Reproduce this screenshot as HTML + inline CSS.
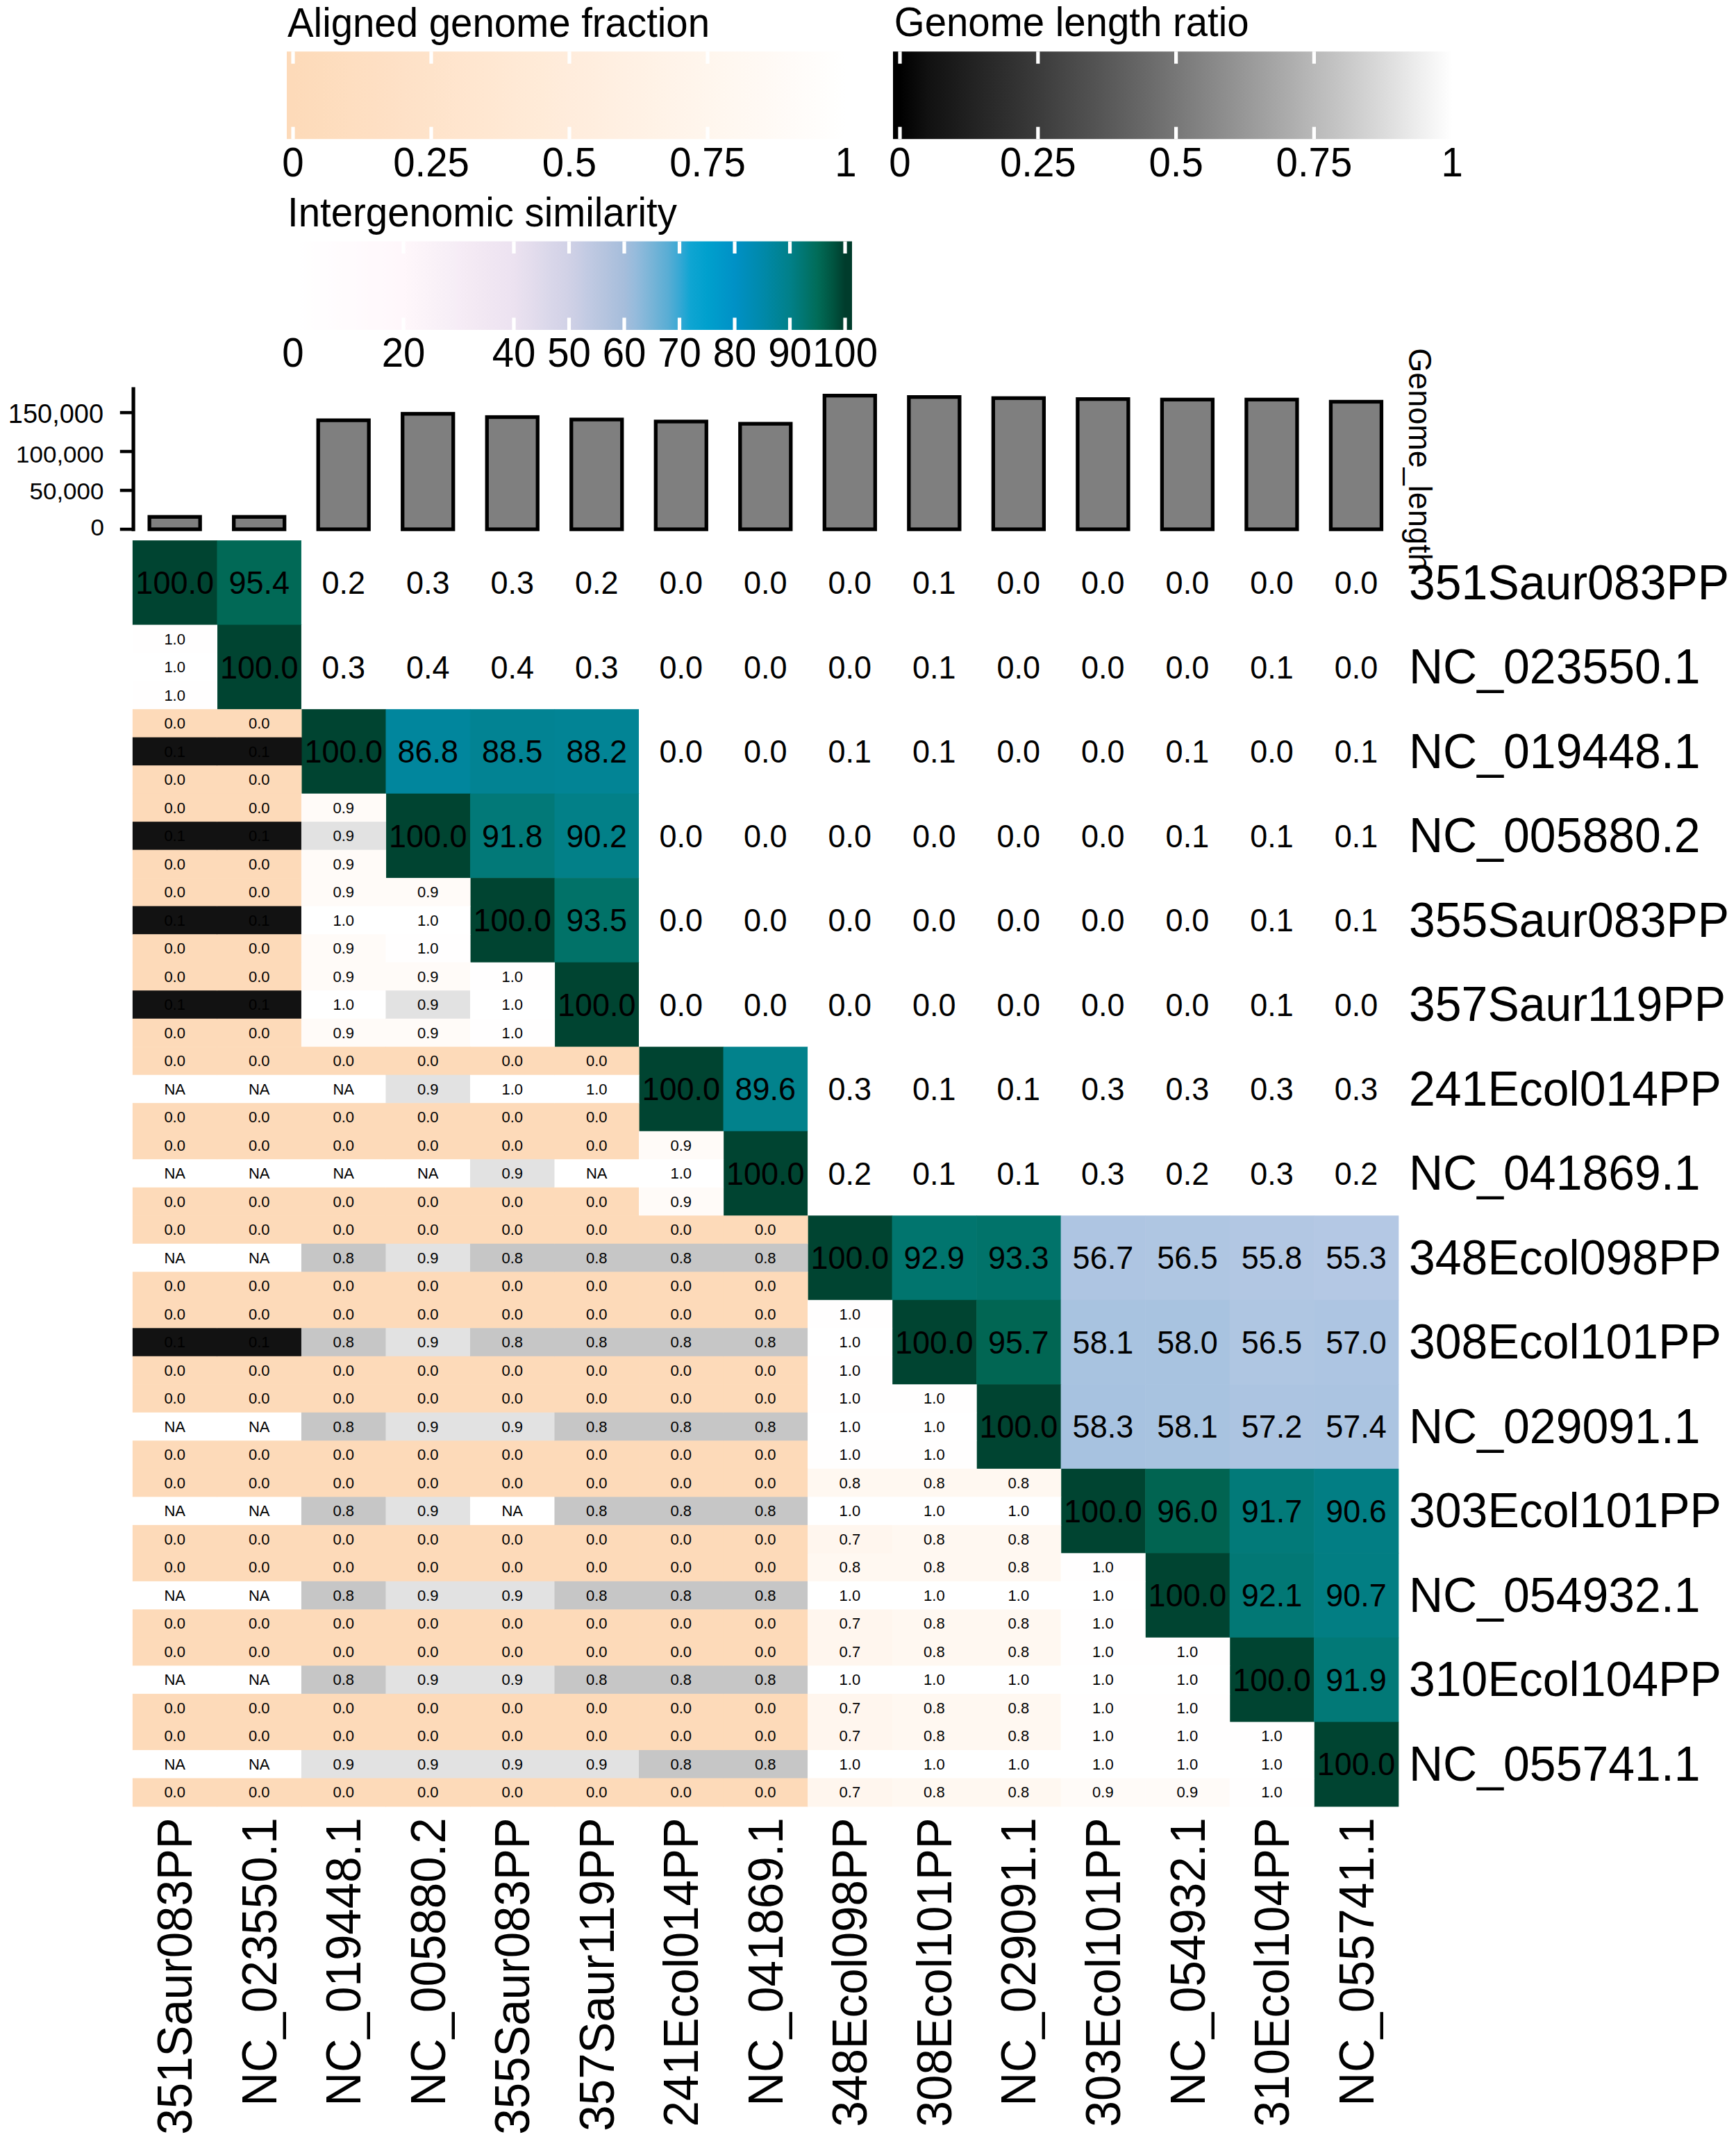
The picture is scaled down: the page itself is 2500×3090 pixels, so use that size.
<!DOCTYPE html><html><head><meta charset="utf-8"><title>VIRIDIC heatmap</title>
<style>html,body{margin:0;padding:0;background:#fff;}body{width:2500px;height:3090px;overflow:hidden;}svg{display:block;}text{font-family:"Liberation Sans", Arial, sans-serif;fill:#000;}</style></head><body>
<svg width="2500" height="3090" viewBox="0 0 2500 3090">
<rect x="0" y="0" width="2500" height="3090" fill="#fff"/>
<defs>
<linearGradient id="gfrac" gradientUnits="userSpaceOnUse" x1="422" y1="0" x2="1218" y2="0">
<stop offset="0" stop-color="#FDDAB9"/>
<stop offset="0.05" stop-color="#FDDCBC"/>
<stop offset="0.1" stop-color="#FEDEC0"/>
<stop offset="0.15" stop-color="#FEDFC3"/>
<stop offset="0.2" stop-color="#FEE1C7"/>
<stop offset="0.25" stop-color="#FEE3CA"/>
<stop offset="0.3" stop-color="#FFE5CE"/>
<stop offset="0.35" stop-color="#FFE7D1"/>
<stop offset="0.4" stop-color="#FFE9D5"/>
<stop offset="0.45" stop-color="#FFEBD8"/>
<stop offset="0.5" stop-color="#FFECDC"/>
<stop offset="0.55" stop-color="#FFEEDF"/>
<stop offset="0.6" stop-color="#FFF0E3"/>
<stop offset="0.65" stop-color="#FFF2E6"/>
<stop offset="0.7" stop-color="#FFF4EA"/>
<stop offset="0.75" stop-color="#FFF6ED"/>
<stop offset="0.8" stop-color="#FFF8F1"/>
<stop offset="0.85" stop-color="#FFF9F4"/>
<stop offset="0.9" stop-color="#FFFBF8"/>
<stop offset="0.95" stop-color="#FFFDFB"/>
<stop offset="1" stop-color="#FFFFFF"/>
</linearGradient>
<linearGradient id="glen" gradientUnits="userSpaceOnUse" x1="1296" y1="0" x2="2091.2" y2="0">
<stop offset="0" stop-color="#000000"/>
<stop offset="0.05" stop-color="#111111"/>
<stop offset="0.1" stop-color="#1B1B1B"/>
<stop offset="0.15" stop-color="#262626"/>
<stop offset="0.2" stop-color="#303030"/>
<stop offset="0.25" stop-color="#3B3B3B"/>
<stop offset="0.3" stop-color="#474747"/>
<stop offset="0.35" stop-color="#525252"/>
<stop offset="0.4" stop-color="#5E5E5E"/>
<stop offset="0.45" stop-color="#6A6A6A"/>
<stop offset="0.5" stop-color="#777777"/>
<stop offset="0.55" stop-color="#848484"/>
<stop offset="0.6" stop-color="#919191"/>
<stop offset="0.65" stop-color="#9E9E9E"/>
<stop offset="0.7" stop-color="#ABABAB"/>
<stop offset="0.75" stop-color="#B9B9B9"/>
<stop offset="0.8" stop-color="#C6C6C6"/>
<stop offset="0.85" stop-color="#D4D4D4"/>
<stop offset="0.9" stop-color="#E2E2E2"/>
<stop offset="0.95" stop-color="#F1F1F1"/>
<stop offset="1" stop-color="#FFFFFF"/>
</linearGradient>
<linearGradient id="gsim" gradientUnits="userSpaceOnUse" x1="422" y1="0" x2="1217" y2="0">
<stop offset="0" stop-color="#FFFFFF"/>
<stop offset="0.01" stop-color="#FFFFFF"/>
<stop offset="0.02" stop-color="#FFFEFF"/>
<stop offset="0.03" stop-color="#FFFEFE"/>
<stop offset="0.04" stop-color="#FFFDFE"/>
<stop offset="0.05" stop-color="#FFFDFE"/>
<stop offset="0.06" stop-color="#FFFDFE"/>
<stop offset="0.07" stop-color="#FFFCFE"/>
<stop offset="0.08" stop-color="#FFFCFD"/>
<stop offset="0.09" stop-color="#FFFBFD"/>
<stop offset="0.1" stop-color="#FFFBFD"/>
<stop offset="0.11" stop-color="#FFFBFD"/>
<stop offset="0.12" stop-color="#FFFAFD"/>
<stop offset="0.13" stop-color="#FFFAFC"/>
<stop offset="0.14" stop-color="#FFF9FC"/>
<stop offset="0.15" stop-color="#FFF9FC"/>
<stop offset="0.16" stop-color="#FFF9FC"/>
<stop offset="0.17" stop-color="#FFF8FC"/>
<stop offset="0.18" stop-color="#FFF8FB"/>
<stop offset="0.19" stop-color="#FFF7FB"/>
<stop offset="0.2" stop-color="#FFF7FB"/>
<stop offset="0.21" stop-color="#FEF6FA"/>
<stop offset="0.22" stop-color="#FDF5FA"/>
<stop offset="0.23" stop-color="#FCF4F9"/>
<stop offset="0.24" stop-color="#FBF3F9"/>
<stop offset="0.25" stop-color="#FAF2F8"/>
<stop offset="0.26" stop-color="#F9F1F8"/>
<stop offset="0.27" stop-color="#F8F0F7"/>
<stop offset="0.28" stop-color="#F7EFF7"/>
<stop offset="0.29" stop-color="#F6EEF6"/>
<stop offset="0.3" stop-color="#F6ECF6"/>
<stop offset="0.31" stop-color="#F5EBF5"/>
<stop offset="0.32" stop-color="#F4EAF4"/>
<stop offset="0.33" stop-color="#F3E9F4"/>
<stop offset="0.34" stop-color="#F2E8F3"/>
<stop offset="0.35" stop-color="#F1E7F3"/>
<stop offset="0.36" stop-color="#F0E6F2"/>
<stop offset="0.37" stop-color="#EFE5F2"/>
<stop offset="0.38" stop-color="#EEE4F1"/>
<stop offset="0.39" stop-color="#EDE3F1"/>
<stop offset="0.4" stop-color="#ECE2F0"/>
<stop offset="0.41" stop-color="#E9E0EF"/>
<stop offset="0.42" stop-color="#E6DFEE"/>
<stop offset="0.43" stop-color="#E4DDED"/>
<stop offset="0.44" stop-color="#E1DBEC"/>
<stop offset="0.45" stop-color="#DEDAEB"/>
<stop offset="0.46" stop-color="#DBD8EA"/>
<stop offset="0.47" stop-color="#D8D6E9"/>
<stop offset="0.48" stop-color="#D6D4E8"/>
<stop offset="0.49" stop-color="#D3D3E7"/>
<stop offset="0.5" stop-color="#D0D1E6"/>
<stop offset="0.51" stop-color="#CCCFE5"/>
<stop offset="0.52" stop-color="#C8CDE4"/>
<stop offset="0.53" stop-color="#C3CBE3"/>
<stop offset="0.54" stop-color="#BFC9E2"/>
<stop offset="0.55" stop-color="#BBC7E0"/>
<stop offset="0.56" stop-color="#B7C5DF"/>
<stop offset="0.57" stop-color="#B3C3DE"/>
<stop offset="0.58" stop-color="#AEC1DD"/>
<stop offset="0.59" stop-color="#AABFDC"/>
<stop offset="0.6" stop-color="#A6BDDB"/>
<stop offset="0.62" stop-color="#96BBDC"/>
<stop offset="0.65" stop-color="#78B4D7"/>
<stop offset="0.68" stop-color="#58ADD4"/>
<stop offset="0.7" stop-color="#37A8D4"/>
<stop offset="0.72" stop-color="#0FA5D2"/>
<stop offset="0.75" stop-color="#00A0CD"/>
<stop offset="0.8" stop-color="#0091C6"/>
<stop offset="0.85" stop-color="#0089AA"/>
<stop offset="0.9" stop-color="#018089"/>
<stop offset="0.95" stop-color="#016C58"/>
<stop offset="0.98" stop-color="#00523E"/>
<stop offset="1" stop-color="#003C2C"/>
</linearGradient>
</defs>
<text transform="translate(414,52.6) scale(1,1.035)" font-size="56.4">Aligned genome fraction</text>
<rect x="413" y="74.2" width="813" height="126" fill="url(#gfrac)"/>
<rect x="419.4" y="74.2" width="5.2" height="17.5" fill="#fff"/>
<rect x="419.4" y="182.7" width="5.2" height="17.5" fill="#fff"/>
<rect x="618.4" y="74.2" width="5.2" height="17.5" fill="#fff"/>
<rect x="618.4" y="182.7" width="5.2" height="17.5" fill="#fff"/>
<rect x="817.4" y="74.2" width="5.2" height="17.5" fill="#fff"/>
<rect x="817.4" y="182.7" width="5.2" height="17.5" fill="#fff"/>
<rect x="1016.4" y="74.2" width="5.2" height="17.5" fill="#fff"/>
<rect x="1016.4" y="182.7" width="5.2" height="17.5" fill="#fff"/>
<rect x="1215.4" y="74.2" width="5.2" height="17.5" fill="#fff"/>
<rect x="1215.4" y="182.7" width="5.2" height="17.5" fill="#fff"/>
<text transform="translate(422,253.5) scale(1,1.035)" font-size="56.4" text-anchor="middle">0</text>
<text transform="translate(621,253.5) scale(1,1.035)" font-size="56.4" text-anchor="middle">0.25</text>
<text transform="translate(820,253.5) scale(1,1.035)" font-size="56.4" text-anchor="middle">0.5</text>
<text transform="translate(1019,253.5) scale(1,1.035)" font-size="56.4" text-anchor="middle">0.75</text>
<text transform="translate(1218,253.5) scale(1,1.035)" font-size="56.4" text-anchor="middle">1</text>
<text transform="translate(1287.8,52.2) scale(1,1.035)" font-size="56.4">Genome length ratio</text>
<rect x="1286" y="74.2" width="813" height="126" fill="url(#glen)"/>
<rect x="1293.4" y="74.2" width="5.2" height="17.5" fill="#fff"/>
<rect x="1293.4" y="182.7" width="5.2" height="17.5" fill="#fff"/>
<rect x="1492.2" y="74.2" width="5.2" height="17.5" fill="#fff"/>
<rect x="1492.2" y="182.7" width="5.2" height="17.5" fill="#fff"/>
<rect x="1691" y="74.2" width="5.2" height="17.5" fill="#fff"/>
<rect x="1691" y="182.7" width="5.2" height="17.5" fill="#fff"/>
<rect x="1889.8" y="74.2" width="5.2" height="17.5" fill="#fff"/>
<rect x="1889.8" y="182.7" width="5.2" height="17.5" fill="#fff"/>
<rect x="2088.6" y="74.2" width="5.2" height="17.5" fill="#fff"/>
<rect x="2088.6" y="182.7" width="5.2" height="17.5" fill="#fff"/>
<text transform="translate(1296,253.5) scale(1,1.035)" font-size="56.4" text-anchor="middle">0</text>
<text transform="translate(1494.8,253.5) scale(1,1.035)" font-size="56.4" text-anchor="middle">0.25</text>
<text transform="translate(1693.6,253.5) scale(1,1.035)" font-size="56.4" text-anchor="middle">0.5</text>
<text transform="translate(1892.4,253.5) scale(1,1.035)" font-size="56.4" text-anchor="middle">0.75</text>
<text transform="translate(2091.2,253.5) scale(1,1.035)" font-size="56.4" text-anchor="middle">1</text>
<text transform="translate(414,326) scale(1,1.035)" font-size="56.4">Intergenomic similarity</text>
<rect x="413" y="347.5" width="814" height="127.5" fill="url(#gsim)"/>
<rect x="419.4" y="347.5" width="5.2" height="17.5" fill="#fff"/>
<rect x="419.4" y="457.5" width="5.2" height="17.5" fill="#fff"/>
<rect x="578.4" y="347.5" width="5.2" height="17.5" fill="#fff"/>
<rect x="578.4" y="457.5" width="5.2" height="17.5" fill="#fff"/>
<rect x="737.4" y="347.5" width="5.2" height="17.5" fill="#fff"/>
<rect x="737.4" y="457.5" width="5.2" height="17.5" fill="#fff"/>
<rect x="816.9" y="347.5" width="5.2" height="17.5" fill="#fff"/>
<rect x="816.9" y="457.5" width="5.2" height="17.5" fill="#fff"/>
<rect x="896.4" y="347.5" width="5.2" height="17.5" fill="#fff"/>
<rect x="896.4" y="457.5" width="5.2" height="17.5" fill="#fff"/>
<rect x="975.9" y="347.5" width="5.2" height="17.5" fill="#fff"/>
<rect x="975.9" y="457.5" width="5.2" height="17.5" fill="#fff"/>
<rect x="1055.4" y="347.5" width="5.2" height="17.5" fill="#fff"/>
<rect x="1055.4" y="457.5" width="5.2" height="17.5" fill="#fff"/>
<rect x="1134.9" y="347.5" width="5.2" height="17.5" fill="#fff"/>
<rect x="1134.9" y="457.5" width="5.2" height="17.5" fill="#fff"/>
<rect x="1214.4" y="347.5" width="5.2" height="17.5" fill="#fff"/>
<rect x="1214.4" y="457.5" width="5.2" height="17.5" fill="#fff"/>
<text transform="translate(422,528) scale(1,1.035)" font-size="56.4" text-anchor="middle">0</text>
<text transform="translate(581,528) scale(1,1.035)" font-size="56.4" text-anchor="middle">20</text>
<text transform="translate(740,528) scale(1,1.035)" font-size="56.4" text-anchor="middle">40</text>
<text transform="translate(819.5,528) scale(1,1.035)" font-size="56.4" text-anchor="middle">50</text>
<text transform="translate(899,528) scale(1,1.035)" font-size="56.4" text-anchor="middle">60</text>
<text transform="translate(978.5,528) scale(1,1.035)" font-size="56.4" text-anchor="middle">70</text>
<text transform="translate(1058,528) scale(1,1.035)" font-size="56.4" text-anchor="middle">80</text>
<text transform="translate(1137.5,528) scale(1,1.035)" font-size="56.4" text-anchor="middle">90</text>
<text transform="translate(1217,528) scale(1,1.035)" font-size="56.4" text-anchor="middle">100</text>
<rect x="189.5" y="557.5" width="5.2" height="207.3" fill="#000"/>
<rect x="172.8" y="759.8" width="20" height="4.6" fill="#000"/>
<rect x="172.8" y="703.8" width="20" height="4.6" fill="#000"/>
<rect x="172.8" y="647.8" width="20" height="4.6" fill="#000"/>
<rect x="172.8" y="591.8" width="20" height="4.6" fill="#000"/>
<text transform="translate(149.1,609.2) scale(1,1.035)" font-size="38" text-anchor="end">150,000</text>
<text transform="translate(149.5,666.3) scale(1,0.94)" font-size="35" text-anchor="end">100,000</text>
<text transform="translate(149.5,719.3) scale(1,0.94)" font-size="35" text-anchor="end">50,000</text>
<text transform="translate(150,770.5) scale(1,0.96)" font-size="35" text-anchor="end">0</text>
<rect x="215.16" y="744.25" width="73" height="17.85" fill="#7F7F7F" stroke="#000" stroke-width="5.3"/>
<rect x="336.68" y="744.25" width="73" height="17.85" fill="#7F7F7F" stroke="#000" stroke-width="5.3"/>
<rect x="458.2" y="605.15" width="73" height="156.95" fill="#7F7F7F" stroke="#000" stroke-width="5.3"/>
<rect x="579.72" y="595.85" width="73" height="166.25" fill="#7F7F7F" stroke="#000" stroke-width="5.3"/>
<rect x="701.24" y="600.55" width="73" height="161.55" fill="#7F7F7F" stroke="#000" stroke-width="5.3"/>
<rect x="822.76" y="604.05" width="73" height="158.05" fill="#7F7F7F" stroke="#000" stroke-width="5.3"/>
<rect x="944.28" y="606.95" width="73" height="155.15" fill="#7F7F7F" stroke="#000" stroke-width="5.3"/>
<rect x="1065.8" y="610.15" width="73" height="151.95" fill="#7F7F7F" stroke="#000" stroke-width="5.3"/>
<rect x="1187.32" y="569.65" width="73" height="192.45" fill="#7F7F7F" stroke="#000" stroke-width="5.3"/>
<rect x="1308.84" y="571.65" width="73" height="190.45" fill="#7F7F7F" stroke="#000" stroke-width="5.3"/>
<rect x="1430.36" y="573.25" width="73" height="188.85" fill="#7F7F7F" stroke="#000" stroke-width="5.3"/>
<rect x="1551.88" y="574.65" width="73" height="187.45" fill="#7F7F7F" stroke="#000" stroke-width="5.3"/>
<rect x="1673.4" y="575.35" width="73" height="186.75" fill="#7F7F7F" stroke="#000" stroke-width="5.3"/>
<rect x="1794.92" y="575.35" width="73" height="186.75" fill="#7F7F7F" stroke="#000" stroke-width="5.3"/>
<rect x="1916.44" y="578.45" width="73" height="183.65" fill="#7F7F7F" stroke="#000" stroke-width="5.3"/>
<text transform="translate(2029,501.3) rotate(90) scale(1,1.035)" font-size="45">Genome_length</text>
<rect x="190.9" y="778.1" width="122.12" height="122.12" fill="#004431"/>
<rect x="312.42" y="778.1" width="122.12" height="122.12" fill="#016956"/>
<rect x="433.94" y="778.1" width="122.12" height="122.12" fill="#FFFFFF"/>
<rect x="555.46" y="778.1" width="122.12" height="122.12" fill="#FFFFFF"/>
<rect x="676.98" y="778.1" width="122.12" height="122.12" fill="#FFFFFF"/>
<rect x="798.5" y="778.1" width="122.12" height="122.12" fill="#FFFFFF"/>
<rect x="920.02" y="778.1" width="122.12" height="122.12" fill="#FFFFFF"/>
<rect x="1041.54" y="778.1" width="122.12" height="122.12" fill="#FFFFFF"/>
<rect x="1163.06" y="778.1" width="122.12" height="122.12" fill="#FFFFFF"/>
<rect x="1284.58" y="778.1" width="122.12" height="122.12" fill="#FFFFFF"/>
<rect x="1406.1" y="778.1" width="122.12" height="122.12" fill="#FFFFFF"/>
<rect x="1527.62" y="778.1" width="122.12" height="122.12" fill="#FFFFFF"/>
<rect x="1649.14" y="778.1" width="122.12" height="122.12" fill="#FFFFFF"/>
<rect x="1770.66" y="778.1" width="122.12" height="122.12" fill="#FFFFFF"/>
<rect x="1892.18" y="778.1" width="122.12" height="122.12" fill="#FFFFFF"/>
<rect x="312.42" y="899.62" width="122.12" height="122.12" fill="#004431"/>
<rect x="433.94" y="899.62" width="122.12" height="122.12" fill="#FFFFFF"/>
<rect x="555.46" y="899.62" width="122.12" height="122.12" fill="#FFFFFF"/>
<rect x="676.98" y="899.62" width="122.12" height="122.12" fill="#FFFFFF"/>
<rect x="798.5" y="899.62" width="122.12" height="122.12" fill="#FFFFFF"/>
<rect x="920.02" y="899.62" width="122.12" height="122.12" fill="#FFFFFF"/>
<rect x="1041.54" y="899.62" width="122.12" height="122.12" fill="#FFFFFF"/>
<rect x="1163.06" y="899.62" width="122.12" height="122.12" fill="#FFFFFF"/>
<rect x="1284.58" y="899.62" width="122.12" height="122.12" fill="#FFFFFF"/>
<rect x="1406.1" y="899.62" width="122.12" height="122.12" fill="#FFFFFF"/>
<rect x="1527.62" y="899.62" width="122.12" height="122.12" fill="#FFFFFF"/>
<rect x="1649.14" y="899.62" width="122.12" height="122.12" fill="#FFFFFF"/>
<rect x="1770.66" y="899.62" width="122.12" height="122.12" fill="#FFFFFF"/>
<rect x="1892.18" y="899.62" width="122.12" height="122.12" fill="#FFFFFF"/>
<rect x="190.9" y="899.62" width="122.12" height="41.11" fill="#FFFEFE"/>
<rect x="190.9" y="940.13" width="122.12" height="41.11" fill="#FFFFFF"/>
<rect x="190.9" y="980.63" width="122.12" height="41.11" fill="#FFFEFE"/>
<rect x="433.94" y="1021.14" width="122.12" height="122.12" fill="#004431"/>
<rect x="555.46" y="1021.14" width="122.12" height="122.12" fill="#01869D"/>
<rect x="676.98" y="1021.14" width="122.12" height="122.12" fill="#028393"/>
<rect x="798.5" y="1021.14" width="122.12" height="122.12" fill="#028495"/>
<rect x="920.02" y="1021.14" width="122.12" height="122.12" fill="#FFFFFF"/>
<rect x="1041.54" y="1021.14" width="122.12" height="122.12" fill="#FFFFFF"/>
<rect x="1163.06" y="1021.14" width="122.12" height="122.12" fill="#FFFFFF"/>
<rect x="1284.58" y="1021.14" width="122.12" height="122.12" fill="#FFFFFF"/>
<rect x="1406.1" y="1021.14" width="122.12" height="122.12" fill="#FFFFFF"/>
<rect x="1527.62" y="1021.14" width="122.12" height="122.12" fill="#FFFFFF"/>
<rect x="1649.14" y="1021.14" width="122.12" height="122.12" fill="#FFFFFF"/>
<rect x="1770.66" y="1021.14" width="122.12" height="122.12" fill="#FFFFFF"/>
<rect x="1892.18" y="1021.14" width="122.12" height="122.12" fill="#FFFFFF"/>
<rect x="190.9" y="1021.14" width="122.12" height="41.11" fill="#FDDAB9"/>
<rect x="190.9" y="1061.65" width="122.12" height="41.11" fill="#121212"/>
<rect x="190.9" y="1102.15" width="122.12" height="41.11" fill="#FDDAB9"/>
<rect x="312.42" y="1021.14" width="122.12" height="41.11" fill="#FDDAB9"/>
<rect x="312.42" y="1061.65" width="122.12" height="41.11" fill="#121212"/>
<rect x="312.42" y="1102.15" width="122.12" height="41.11" fill="#FDDAB9"/>
<rect x="555.46" y="1142.66" width="122.12" height="122.12" fill="#004431"/>
<rect x="676.98" y="1142.66" width="122.12" height="122.12" fill="#027978"/>
<rect x="798.5" y="1142.66" width="122.12" height="122.12" fill="#028088"/>
<rect x="920.02" y="1142.66" width="122.12" height="122.12" fill="#FFFFFF"/>
<rect x="1041.54" y="1142.66" width="122.12" height="122.12" fill="#FFFFFF"/>
<rect x="1163.06" y="1142.66" width="122.12" height="122.12" fill="#FFFFFF"/>
<rect x="1284.58" y="1142.66" width="122.12" height="122.12" fill="#FFFFFF"/>
<rect x="1406.1" y="1142.66" width="122.12" height="122.12" fill="#FFFFFF"/>
<rect x="1527.62" y="1142.66" width="122.12" height="122.12" fill="#FFFFFF"/>
<rect x="1649.14" y="1142.66" width="122.12" height="122.12" fill="#FFFFFF"/>
<rect x="1770.66" y="1142.66" width="122.12" height="122.12" fill="#FFFFFF"/>
<rect x="1892.18" y="1142.66" width="122.12" height="122.12" fill="#FFFFFF"/>
<rect x="190.9" y="1142.66" width="122.12" height="41.11" fill="#FDDAB9"/>
<rect x="190.9" y="1183.17" width="122.12" height="41.11" fill="#121212"/>
<rect x="190.9" y="1223.67" width="122.12" height="41.11" fill="#FDDAB9"/>
<rect x="312.42" y="1142.66" width="122.12" height="41.11" fill="#FDDAB9"/>
<rect x="312.42" y="1183.17" width="122.12" height="41.11" fill="#121212"/>
<rect x="312.42" y="1223.67" width="122.12" height="41.11" fill="#FDDAB9"/>
<rect x="433.94" y="1142.66" width="122.12" height="41.11" fill="#FFFBF8"/>
<rect x="433.94" y="1183.17" width="122.12" height="41.11" fill="#E2E2E2"/>
<rect x="433.94" y="1223.67" width="122.12" height="41.11" fill="#FFFBF8"/>
<rect x="676.98" y="1264.18" width="122.12" height="122.12" fill="#004431"/>
<rect x="798.5" y="1264.18" width="122.12" height="122.12" fill="#017268"/>
<rect x="920.02" y="1264.18" width="122.12" height="122.12" fill="#FFFFFF"/>
<rect x="1041.54" y="1264.18" width="122.12" height="122.12" fill="#FFFFFF"/>
<rect x="1163.06" y="1264.18" width="122.12" height="122.12" fill="#FFFFFF"/>
<rect x="1284.58" y="1264.18" width="122.12" height="122.12" fill="#FFFFFF"/>
<rect x="1406.1" y="1264.18" width="122.12" height="122.12" fill="#FFFFFF"/>
<rect x="1527.62" y="1264.18" width="122.12" height="122.12" fill="#FFFFFF"/>
<rect x="1649.14" y="1264.18" width="122.12" height="122.12" fill="#FFFFFF"/>
<rect x="1770.66" y="1264.18" width="122.12" height="122.12" fill="#FFFFFF"/>
<rect x="1892.18" y="1264.18" width="122.12" height="122.12" fill="#FFFFFF"/>
<rect x="190.9" y="1264.18" width="122.12" height="41.11" fill="#FDDAB9"/>
<rect x="190.9" y="1304.69" width="122.12" height="41.11" fill="#121212"/>
<rect x="190.9" y="1345.19" width="122.12" height="41.11" fill="#FDDAB9"/>
<rect x="312.42" y="1264.18" width="122.12" height="41.11" fill="#FDDAB9"/>
<rect x="312.42" y="1304.69" width="122.12" height="41.11" fill="#121212"/>
<rect x="312.42" y="1345.19" width="122.12" height="41.11" fill="#FDDAB9"/>
<rect x="433.94" y="1264.18" width="122.12" height="41.11" fill="#FFFBF8"/>
<rect x="433.94" y="1304.69" width="122.12" height="41.11" fill="#FFFFFF"/>
<rect x="433.94" y="1345.19" width="122.12" height="41.11" fill="#FFFBF8"/>
<rect x="555.46" y="1264.18" width="122.12" height="41.11" fill="#FFFBF8"/>
<rect x="555.46" y="1304.69" width="122.12" height="41.11" fill="#FFFFFF"/>
<rect x="555.46" y="1345.19" width="122.12" height="41.11" fill="#FFFEFE"/>
<rect x="798.5" y="1385.7" width="122.12" height="122.12" fill="#004431"/>
<rect x="920.02" y="1385.7" width="122.12" height="122.12" fill="#FFFFFF"/>
<rect x="1041.54" y="1385.7" width="122.12" height="122.12" fill="#FFFFFF"/>
<rect x="1163.06" y="1385.7" width="122.12" height="122.12" fill="#FFFFFF"/>
<rect x="1284.58" y="1385.7" width="122.12" height="122.12" fill="#FFFFFF"/>
<rect x="1406.1" y="1385.7" width="122.12" height="122.12" fill="#FFFFFF"/>
<rect x="1527.62" y="1385.7" width="122.12" height="122.12" fill="#FFFFFF"/>
<rect x="1649.14" y="1385.7" width="122.12" height="122.12" fill="#FFFFFF"/>
<rect x="1770.66" y="1385.7" width="122.12" height="122.12" fill="#FFFFFF"/>
<rect x="1892.18" y="1385.7" width="122.12" height="122.12" fill="#FFFFFF"/>
<rect x="190.9" y="1385.7" width="122.12" height="41.11" fill="#FDDAB9"/>
<rect x="190.9" y="1426.21" width="122.12" height="41.11" fill="#121212"/>
<rect x="190.9" y="1466.71" width="122.12" height="41.11" fill="#FDDAB9"/>
<rect x="312.42" y="1385.7" width="122.12" height="41.11" fill="#FDDAB9"/>
<rect x="312.42" y="1426.21" width="122.12" height="41.11" fill="#121212"/>
<rect x="312.42" y="1466.71" width="122.12" height="41.11" fill="#FDDAB9"/>
<rect x="433.94" y="1385.7" width="122.12" height="41.11" fill="#FFFBF8"/>
<rect x="433.94" y="1426.21" width="122.12" height="41.11" fill="#FFFFFF"/>
<rect x="433.94" y="1466.71" width="122.12" height="41.11" fill="#FFFBF8"/>
<rect x="555.46" y="1385.7" width="122.12" height="41.11" fill="#FFFBF8"/>
<rect x="555.46" y="1426.21" width="122.12" height="41.11" fill="#E2E2E2"/>
<rect x="555.46" y="1466.71" width="122.12" height="41.11" fill="#FFFBF8"/>
<rect x="676.98" y="1385.7" width="122.12" height="41.11" fill="#FFFEFE"/>
<rect x="676.98" y="1426.21" width="122.12" height="41.11" fill="#FFFFFF"/>
<rect x="676.98" y="1466.71" width="122.12" height="41.11" fill="#FFFEFE"/>
<rect x="920.02" y="1507.22" width="122.12" height="122.12" fill="#004431"/>
<rect x="1041.54" y="1507.22" width="122.12" height="122.12" fill="#02828C"/>
<rect x="1163.06" y="1507.22" width="122.12" height="122.12" fill="#FFFFFF"/>
<rect x="1284.58" y="1507.22" width="122.12" height="122.12" fill="#FFFFFF"/>
<rect x="1406.1" y="1507.22" width="122.12" height="122.12" fill="#FFFFFF"/>
<rect x="1527.62" y="1507.22" width="122.12" height="122.12" fill="#FFFFFF"/>
<rect x="1649.14" y="1507.22" width="122.12" height="122.12" fill="#FFFFFF"/>
<rect x="1770.66" y="1507.22" width="122.12" height="122.12" fill="#FFFFFF"/>
<rect x="1892.18" y="1507.22" width="122.12" height="122.12" fill="#FFFFFF"/>
<rect x="190.9" y="1507.22" width="122.12" height="41.11" fill="#FDDAB9"/>
<rect x="190.9" y="1547.73" width="122.12" height="41.11" fill="#FFFFFF"/>
<rect x="190.9" y="1588.23" width="122.12" height="41.11" fill="#FDDAB9"/>
<rect x="312.42" y="1507.22" width="122.12" height="41.11" fill="#FDDAB9"/>
<rect x="312.42" y="1547.73" width="122.12" height="41.11" fill="#FFFFFF"/>
<rect x="312.42" y="1588.23" width="122.12" height="41.11" fill="#FDDAB9"/>
<rect x="433.94" y="1507.22" width="122.12" height="41.11" fill="#FDDAB9"/>
<rect x="433.94" y="1547.73" width="122.12" height="41.11" fill="#FFFFFF"/>
<rect x="433.94" y="1588.23" width="122.12" height="41.11" fill="#FDDAB9"/>
<rect x="555.46" y="1507.22" width="122.12" height="41.11" fill="#FDDAB9"/>
<rect x="555.46" y="1547.73" width="122.12" height="41.11" fill="#E2E2E2"/>
<rect x="555.46" y="1588.23" width="122.12" height="41.11" fill="#FDDAB9"/>
<rect x="676.98" y="1507.22" width="122.12" height="41.11" fill="#FDDAB9"/>
<rect x="676.98" y="1547.73" width="122.12" height="41.11" fill="#FFFFFF"/>
<rect x="676.98" y="1588.23" width="122.12" height="41.11" fill="#FDDAB9"/>
<rect x="798.5" y="1507.22" width="122.12" height="41.11" fill="#FDDAB9"/>
<rect x="798.5" y="1547.73" width="122.12" height="41.11" fill="#FFFFFF"/>
<rect x="798.5" y="1588.23" width="122.12" height="41.11" fill="#FDDAB9"/>
<rect x="1041.54" y="1628.74" width="122.12" height="122.12" fill="#004431"/>
<rect x="1163.06" y="1628.74" width="122.12" height="122.12" fill="#FFFFFF"/>
<rect x="1284.58" y="1628.74" width="122.12" height="122.12" fill="#FFFFFF"/>
<rect x="1406.1" y="1628.74" width="122.12" height="122.12" fill="#FFFFFF"/>
<rect x="1527.62" y="1628.74" width="122.12" height="122.12" fill="#FFFFFF"/>
<rect x="1649.14" y="1628.74" width="122.12" height="122.12" fill="#FFFFFF"/>
<rect x="1770.66" y="1628.74" width="122.12" height="122.12" fill="#FFFFFF"/>
<rect x="1892.18" y="1628.74" width="122.12" height="122.12" fill="#FFFFFF"/>
<rect x="190.9" y="1628.74" width="122.12" height="41.11" fill="#FDDAB9"/>
<rect x="190.9" y="1669.25" width="122.12" height="41.11" fill="#FFFFFF"/>
<rect x="190.9" y="1709.75" width="122.12" height="41.11" fill="#FDDAB9"/>
<rect x="312.42" y="1628.74" width="122.12" height="41.11" fill="#FDDAB9"/>
<rect x="312.42" y="1669.25" width="122.12" height="41.11" fill="#FFFFFF"/>
<rect x="312.42" y="1709.75" width="122.12" height="41.11" fill="#FDDAB9"/>
<rect x="433.94" y="1628.74" width="122.12" height="41.11" fill="#FDDAB9"/>
<rect x="433.94" y="1669.25" width="122.12" height="41.11" fill="#FFFFFF"/>
<rect x="433.94" y="1709.75" width="122.12" height="41.11" fill="#FDDAB9"/>
<rect x="555.46" y="1628.74" width="122.12" height="41.11" fill="#FDDAB9"/>
<rect x="555.46" y="1669.25" width="122.12" height="41.11" fill="#FFFFFF"/>
<rect x="555.46" y="1709.75" width="122.12" height="41.11" fill="#FDDAB9"/>
<rect x="676.98" y="1628.74" width="122.12" height="41.11" fill="#FDDAB9"/>
<rect x="676.98" y="1669.25" width="122.12" height="41.11" fill="#E2E2E2"/>
<rect x="676.98" y="1709.75" width="122.12" height="41.11" fill="#FDDAB9"/>
<rect x="798.5" y="1628.74" width="122.12" height="41.11" fill="#FDDAB9"/>
<rect x="798.5" y="1669.25" width="122.12" height="41.11" fill="#FFFFFF"/>
<rect x="798.5" y="1709.75" width="122.12" height="41.11" fill="#FDDAB9"/>
<rect x="920.02" y="1628.74" width="122.12" height="41.11" fill="#FFFBF8"/>
<rect x="920.02" y="1669.25" width="122.12" height="41.11" fill="#FFFFFF"/>
<rect x="920.02" y="1709.75" width="122.12" height="41.11" fill="#FFFBF8"/>
<rect x="1163.06" y="1750.26" width="122.12" height="122.12" fill="#004431"/>
<rect x="1284.58" y="1750.26" width="122.12" height="122.12" fill="#01756E"/>
<rect x="1406.1" y="1750.26" width="122.12" height="122.12" fill="#01736A"/>
<rect x="1527.62" y="1750.26" width="122.12" height="122.12" fill="#AEC5E2"/>
<rect x="1649.14" y="1750.26" width="122.12" height="122.12" fill="#AFC6E2"/>
<rect x="1770.66" y="1750.26" width="122.12" height="122.12" fill="#B2C7E3"/>
<rect x="1892.18" y="1750.26" width="122.12" height="122.12" fill="#B4C8E4"/>
<rect x="190.9" y="1750.26" width="122.12" height="41.11" fill="#FDDAB9"/>
<rect x="190.9" y="1790.77" width="122.12" height="41.11" fill="#FFFFFF"/>
<rect x="190.9" y="1831.27" width="122.12" height="41.11" fill="#FDDAB9"/>
<rect x="312.42" y="1750.26" width="122.12" height="41.11" fill="#FDDAB9"/>
<rect x="312.42" y="1790.77" width="122.12" height="41.11" fill="#FFFFFF"/>
<rect x="312.42" y="1831.27" width="122.12" height="41.11" fill="#FDDAB9"/>
<rect x="433.94" y="1750.26" width="122.12" height="41.11" fill="#FDDAB9"/>
<rect x="433.94" y="1790.77" width="122.12" height="41.11" fill="#C6C6C6"/>
<rect x="433.94" y="1831.27" width="122.12" height="41.11" fill="#FDDAB9"/>
<rect x="555.46" y="1750.26" width="122.12" height="41.11" fill="#FDDAB9"/>
<rect x="555.46" y="1790.77" width="122.12" height="41.11" fill="#E2E2E2"/>
<rect x="555.46" y="1831.27" width="122.12" height="41.11" fill="#FDDAB9"/>
<rect x="676.98" y="1750.26" width="122.12" height="41.11" fill="#FDDAB9"/>
<rect x="676.98" y="1790.77" width="122.12" height="41.11" fill="#C6C6C6"/>
<rect x="676.98" y="1831.27" width="122.12" height="41.11" fill="#FDDAB9"/>
<rect x="798.5" y="1750.26" width="122.12" height="41.11" fill="#FDDAB9"/>
<rect x="798.5" y="1790.77" width="122.12" height="41.11" fill="#C6C6C6"/>
<rect x="798.5" y="1831.27" width="122.12" height="41.11" fill="#FDDAB9"/>
<rect x="920.02" y="1750.26" width="122.12" height="41.11" fill="#FDDAB9"/>
<rect x="920.02" y="1790.77" width="122.12" height="41.11" fill="#C6C6C6"/>
<rect x="920.02" y="1831.27" width="122.12" height="41.11" fill="#FDDAB9"/>
<rect x="1041.54" y="1750.26" width="122.12" height="41.11" fill="#FDDAB9"/>
<rect x="1041.54" y="1790.77" width="122.12" height="41.11" fill="#C6C6C6"/>
<rect x="1041.54" y="1831.27" width="122.12" height="41.11" fill="#FDDAB9"/>
<rect x="1284.58" y="1871.78" width="122.12" height="122.12" fill="#004431"/>
<rect x="1406.1" y="1871.78" width="122.12" height="122.12" fill="#016653"/>
<rect x="1527.62" y="1871.78" width="122.12" height="122.12" fill="#A8C3E0"/>
<rect x="1649.14" y="1871.78" width="122.12" height="122.12" fill="#A8C3E0"/>
<rect x="1770.66" y="1871.78" width="122.12" height="122.12" fill="#AFC6E2"/>
<rect x="1892.18" y="1871.78" width="122.12" height="122.12" fill="#ADC5E2"/>
<rect x="190.9" y="1871.78" width="122.12" height="41.11" fill="#FDDAB9"/>
<rect x="190.9" y="1912.29" width="122.12" height="41.11" fill="#121212"/>
<rect x="190.9" y="1952.79" width="122.12" height="41.11" fill="#FDDAB9"/>
<rect x="312.42" y="1871.78" width="122.12" height="41.11" fill="#FDDAB9"/>
<rect x="312.42" y="1912.29" width="122.12" height="41.11" fill="#121212"/>
<rect x="312.42" y="1952.79" width="122.12" height="41.11" fill="#FDDAB9"/>
<rect x="433.94" y="1871.78" width="122.12" height="41.11" fill="#FDDAB9"/>
<rect x="433.94" y="1912.29" width="122.12" height="41.11" fill="#C6C6C6"/>
<rect x="433.94" y="1952.79" width="122.12" height="41.11" fill="#FDDAB9"/>
<rect x="555.46" y="1871.78" width="122.12" height="41.11" fill="#FDDAB9"/>
<rect x="555.46" y="1912.29" width="122.12" height="41.11" fill="#E2E2E2"/>
<rect x="555.46" y="1952.79" width="122.12" height="41.11" fill="#FDDAB9"/>
<rect x="676.98" y="1871.78" width="122.12" height="41.11" fill="#FDDAB9"/>
<rect x="676.98" y="1912.29" width="122.12" height="41.11" fill="#C6C6C6"/>
<rect x="676.98" y="1952.79" width="122.12" height="41.11" fill="#FDDAB9"/>
<rect x="798.5" y="1871.78" width="122.12" height="41.11" fill="#FDDAB9"/>
<rect x="798.5" y="1912.29" width="122.12" height="41.11" fill="#C6C6C6"/>
<rect x="798.5" y="1952.79" width="122.12" height="41.11" fill="#FDDAB9"/>
<rect x="920.02" y="1871.78" width="122.12" height="41.11" fill="#FDDAB9"/>
<rect x="920.02" y="1912.29" width="122.12" height="41.11" fill="#C6C6C6"/>
<rect x="920.02" y="1952.79" width="122.12" height="41.11" fill="#FDDAB9"/>
<rect x="1041.54" y="1871.78" width="122.12" height="41.11" fill="#FDDAB9"/>
<rect x="1041.54" y="1912.29" width="122.12" height="41.11" fill="#C6C6C6"/>
<rect x="1041.54" y="1952.79" width="122.12" height="41.11" fill="#FDDAB9"/>
<rect x="1163.06" y="1871.78" width="122.12" height="41.11" fill="#FFFEFE"/>
<rect x="1163.06" y="1912.29" width="122.12" height="41.11" fill="#FFFFFF"/>
<rect x="1163.06" y="1952.79" width="122.12" height="41.11" fill="#FFFEFE"/>
<rect x="1406.1" y="1993.3" width="122.12" height="122.12" fill="#004431"/>
<rect x="1527.62" y="1993.3" width="122.12" height="122.12" fill="#A7C2E0"/>
<rect x="1649.14" y="1993.3" width="122.12" height="122.12" fill="#A8C3E0"/>
<rect x="1770.66" y="1993.3" width="122.12" height="122.12" fill="#ACC4E1"/>
<rect x="1892.18" y="1993.3" width="122.12" height="122.12" fill="#ABC4E1"/>
<rect x="190.9" y="1993.3" width="122.12" height="41.11" fill="#FDDAB9"/>
<rect x="190.9" y="2033.81" width="122.12" height="41.11" fill="#FFFFFF"/>
<rect x="190.9" y="2074.31" width="122.12" height="41.11" fill="#FDDAB9"/>
<rect x="312.42" y="1993.3" width="122.12" height="41.11" fill="#FDDAB9"/>
<rect x="312.42" y="2033.81" width="122.12" height="41.11" fill="#FFFFFF"/>
<rect x="312.42" y="2074.31" width="122.12" height="41.11" fill="#FDDAB9"/>
<rect x="433.94" y="1993.3" width="122.12" height="41.11" fill="#FDDAB9"/>
<rect x="433.94" y="2033.81" width="122.12" height="41.11" fill="#C6C6C6"/>
<rect x="433.94" y="2074.31" width="122.12" height="41.11" fill="#FDDAB9"/>
<rect x="555.46" y="1993.3" width="122.12" height="41.11" fill="#FDDAB9"/>
<rect x="555.46" y="2033.81" width="122.12" height="41.11" fill="#E2E2E2"/>
<rect x="555.46" y="2074.31" width="122.12" height="41.11" fill="#FDDAB9"/>
<rect x="676.98" y="1993.3" width="122.12" height="41.11" fill="#FDDAB9"/>
<rect x="676.98" y="2033.81" width="122.12" height="41.11" fill="#E2E2E2"/>
<rect x="676.98" y="2074.31" width="122.12" height="41.11" fill="#FDDAB9"/>
<rect x="798.5" y="1993.3" width="122.12" height="41.11" fill="#FDDAB9"/>
<rect x="798.5" y="2033.81" width="122.12" height="41.11" fill="#C6C6C6"/>
<rect x="798.5" y="2074.31" width="122.12" height="41.11" fill="#FDDAB9"/>
<rect x="920.02" y="1993.3" width="122.12" height="41.11" fill="#FDDAB9"/>
<rect x="920.02" y="2033.81" width="122.12" height="41.11" fill="#C6C6C6"/>
<rect x="920.02" y="2074.31" width="122.12" height="41.11" fill="#FDDAB9"/>
<rect x="1041.54" y="1993.3" width="122.12" height="41.11" fill="#FDDAB9"/>
<rect x="1041.54" y="2033.81" width="122.12" height="41.11" fill="#C6C6C6"/>
<rect x="1041.54" y="2074.31" width="122.12" height="41.11" fill="#FDDAB9"/>
<rect x="1163.06" y="1993.3" width="122.12" height="41.11" fill="#FFFEFE"/>
<rect x="1163.06" y="2033.81" width="122.12" height="41.11" fill="#FFFFFF"/>
<rect x="1163.06" y="2074.31" width="122.12" height="41.11" fill="#FFFEFE"/>
<rect x="1284.58" y="1993.3" width="122.12" height="41.11" fill="#FFFEFE"/>
<rect x="1284.58" y="2033.81" width="122.12" height="41.11" fill="#FFFFFF"/>
<rect x="1284.58" y="2074.31" width="122.12" height="41.11" fill="#FFFEFE"/>
<rect x="1527.62" y="2114.82" width="122.12" height="122.12" fill="#004431"/>
<rect x="1649.14" y="2114.82" width="122.12" height="122.12" fill="#016451"/>
<rect x="1770.66" y="2114.82" width="122.12" height="122.12" fill="#027A79"/>
<rect x="1892.18" y="2114.82" width="122.12" height="122.12" fill="#027E84"/>
<rect x="190.9" y="2114.82" width="122.12" height="41.11" fill="#FDDAB9"/>
<rect x="190.9" y="2155.33" width="122.12" height="41.11" fill="#FFFFFF"/>
<rect x="190.9" y="2195.83" width="122.12" height="41.11" fill="#FDDAB9"/>
<rect x="312.42" y="2114.82" width="122.12" height="41.11" fill="#FDDAB9"/>
<rect x="312.42" y="2155.33" width="122.12" height="41.11" fill="#FFFFFF"/>
<rect x="312.42" y="2195.83" width="122.12" height="41.11" fill="#FDDAB9"/>
<rect x="433.94" y="2114.82" width="122.12" height="41.11" fill="#FDDAB9"/>
<rect x="433.94" y="2155.33" width="122.12" height="41.11" fill="#C6C6C6"/>
<rect x="433.94" y="2195.83" width="122.12" height="41.11" fill="#FDDAB9"/>
<rect x="555.46" y="2114.82" width="122.12" height="41.11" fill="#FDDAB9"/>
<rect x="555.46" y="2155.33" width="122.12" height="41.11" fill="#E2E2E2"/>
<rect x="555.46" y="2195.83" width="122.12" height="41.11" fill="#FDDAB9"/>
<rect x="676.98" y="2114.82" width="122.12" height="41.11" fill="#FDDAB9"/>
<rect x="676.98" y="2155.33" width="122.12" height="41.11" fill="#FFFFFF"/>
<rect x="676.98" y="2195.83" width="122.12" height="41.11" fill="#FDDAB9"/>
<rect x="798.5" y="2114.82" width="122.12" height="41.11" fill="#FDDAB9"/>
<rect x="798.5" y="2155.33" width="122.12" height="41.11" fill="#C6C6C6"/>
<rect x="798.5" y="2195.83" width="122.12" height="41.11" fill="#FDDAB9"/>
<rect x="920.02" y="2114.82" width="122.12" height="41.11" fill="#FDDAB9"/>
<rect x="920.02" y="2155.33" width="122.12" height="41.11" fill="#C6C6C6"/>
<rect x="920.02" y="2195.83" width="122.12" height="41.11" fill="#FDDAB9"/>
<rect x="1041.54" y="2114.82" width="122.12" height="41.11" fill="#FDDAB9"/>
<rect x="1041.54" y="2155.33" width="122.12" height="41.11" fill="#C6C6C6"/>
<rect x="1041.54" y="2195.83" width="122.12" height="41.11" fill="#FDDAB9"/>
<rect x="1163.06" y="2114.82" width="122.12" height="41.11" fill="#FFF8F1"/>
<rect x="1163.06" y="2155.33" width="122.12" height="41.11" fill="#FFFFFF"/>
<rect x="1163.06" y="2195.83" width="122.12" height="41.11" fill="#FFF6EE"/>
<rect x="1284.58" y="2114.82" width="122.12" height="41.11" fill="#FFF8F1"/>
<rect x="1284.58" y="2155.33" width="122.12" height="41.11" fill="#FFFFFF"/>
<rect x="1284.58" y="2195.83" width="122.12" height="41.11" fill="#FFF8F1"/>
<rect x="1406.1" y="2114.82" width="122.12" height="41.11" fill="#FFF8F1"/>
<rect x="1406.1" y="2155.33" width="122.12" height="41.11" fill="#FFFFFF"/>
<rect x="1406.1" y="2195.83" width="122.12" height="41.11" fill="#FFF8F1"/>
<rect x="1649.14" y="2236.34" width="122.12" height="122.12" fill="#004431"/>
<rect x="1770.66" y="2236.34" width="122.12" height="122.12" fill="#027875"/>
<rect x="1892.18" y="2236.34" width="122.12" height="122.12" fill="#027E83"/>
<rect x="190.9" y="2236.34" width="122.12" height="41.11" fill="#FDDAB9"/>
<rect x="190.9" y="2276.85" width="122.12" height="41.11" fill="#FFFFFF"/>
<rect x="190.9" y="2317.35" width="122.12" height="41.11" fill="#FDDAB9"/>
<rect x="312.42" y="2236.34" width="122.12" height="41.11" fill="#FDDAB9"/>
<rect x="312.42" y="2276.85" width="122.12" height="41.11" fill="#FFFFFF"/>
<rect x="312.42" y="2317.35" width="122.12" height="41.11" fill="#FDDAB9"/>
<rect x="433.94" y="2236.34" width="122.12" height="41.11" fill="#FDDAB9"/>
<rect x="433.94" y="2276.85" width="122.12" height="41.11" fill="#C6C6C6"/>
<rect x="433.94" y="2317.35" width="122.12" height="41.11" fill="#FDDAB9"/>
<rect x="555.46" y="2236.34" width="122.12" height="41.11" fill="#FDDAB9"/>
<rect x="555.46" y="2276.85" width="122.12" height="41.11" fill="#E2E2E2"/>
<rect x="555.46" y="2317.35" width="122.12" height="41.11" fill="#FDDAB9"/>
<rect x="676.98" y="2236.34" width="122.12" height="41.11" fill="#FDDAB9"/>
<rect x="676.98" y="2276.85" width="122.12" height="41.11" fill="#E2E2E2"/>
<rect x="676.98" y="2317.35" width="122.12" height="41.11" fill="#FDDAB9"/>
<rect x="798.5" y="2236.34" width="122.12" height="41.11" fill="#FDDAB9"/>
<rect x="798.5" y="2276.85" width="122.12" height="41.11" fill="#C6C6C6"/>
<rect x="798.5" y="2317.35" width="122.12" height="41.11" fill="#FDDAB9"/>
<rect x="920.02" y="2236.34" width="122.12" height="41.11" fill="#FDDAB9"/>
<rect x="920.02" y="2276.85" width="122.12" height="41.11" fill="#C6C6C6"/>
<rect x="920.02" y="2317.35" width="122.12" height="41.11" fill="#FDDAB9"/>
<rect x="1041.54" y="2236.34" width="122.12" height="41.11" fill="#FDDAB9"/>
<rect x="1041.54" y="2276.85" width="122.12" height="41.11" fill="#C6C6C6"/>
<rect x="1041.54" y="2317.35" width="122.12" height="41.11" fill="#FDDAB9"/>
<rect x="1163.06" y="2236.34" width="122.12" height="41.11" fill="#FFF8F1"/>
<rect x="1163.06" y="2276.85" width="122.12" height="41.11" fill="#FFFFFF"/>
<rect x="1163.06" y="2317.35" width="122.12" height="41.11" fill="#FFF6EE"/>
<rect x="1284.58" y="2236.34" width="122.12" height="41.11" fill="#FFF8F1"/>
<rect x="1284.58" y="2276.85" width="122.12" height="41.11" fill="#FFFFFF"/>
<rect x="1284.58" y="2317.35" width="122.12" height="41.11" fill="#FFF8F1"/>
<rect x="1406.1" y="2236.34" width="122.12" height="41.11" fill="#FFF8F1"/>
<rect x="1406.1" y="2276.85" width="122.12" height="41.11" fill="#FFFFFF"/>
<rect x="1406.1" y="2317.35" width="122.12" height="41.11" fill="#FFF8F1"/>
<rect x="1527.62" y="2236.34" width="122.12" height="41.11" fill="#FFFEFE"/>
<rect x="1527.62" y="2276.85" width="122.12" height="41.11" fill="#FFFFFF"/>
<rect x="1527.62" y="2317.35" width="122.12" height="41.11" fill="#FFFEFE"/>
<rect x="1770.66" y="2357.86" width="122.12" height="122.12" fill="#004431"/>
<rect x="1892.18" y="2357.86" width="122.12" height="122.12" fill="#027977"/>
<rect x="190.9" y="2357.86" width="122.12" height="41.11" fill="#FDDAB9"/>
<rect x="190.9" y="2398.37" width="122.12" height="41.11" fill="#FFFFFF"/>
<rect x="190.9" y="2438.87" width="122.12" height="41.11" fill="#FDDAB9"/>
<rect x="312.42" y="2357.86" width="122.12" height="41.11" fill="#FDDAB9"/>
<rect x="312.42" y="2398.37" width="122.12" height="41.11" fill="#FFFFFF"/>
<rect x="312.42" y="2438.87" width="122.12" height="41.11" fill="#FDDAB9"/>
<rect x="433.94" y="2357.86" width="122.12" height="41.11" fill="#FDDAB9"/>
<rect x="433.94" y="2398.37" width="122.12" height="41.11" fill="#C6C6C6"/>
<rect x="433.94" y="2438.87" width="122.12" height="41.11" fill="#FDDAB9"/>
<rect x="555.46" y="2357.86" width="122.12" height="41.11" fill="#FDDAB9"/>
<rect x="555.46" y="2398.37" width="122.12" height="41.11" fill="#E2E2E2"/>
<rect x="555.46" y="2438.87" width="122.12" height="41.11" fill="#FDDAB9"/>
<rect x="676.98" y="2357.86" width="122.12" height="41.11" fill="#FDDAB9"/>
<rect x="676.98" y="2398.37" width="122.12" height="41.11" fill="#E2E2E2"/>
<rect x="676.98" y="2438.87" width="122.12" height="41.11" fill="#FDDAB9"/>
<rect x="798.5" y="2357.86" width="122.12" height="41.11" fill="#FDDAB9"/>
<rect x="798.5" y="2398.37" width="122.12" height="41.11" fill="#C6C6C6"/>
<rect x="798.5" y="2438.87" width="122.12" height="41.11" fill="#FDDAB9"/>
<rect x="920.02" y="2357.86" width="122.12" height="41.11" fill="#FDDAB9"/>
<rect x="920.02" y="2398.37" width="122.12" height="41.11" fill="#C6C6C6"/>
<rect x="920.02" y="2438.87" width="122.12" height="41.11" fill="#FDDAB9"/>
<rect x="1041.54" y="2357.86" width="122.12" height="41.11" fill="#FDDAB9"/>
<rect x="1041.54" y="2398.37" width="122.12" height="41.11" fill="#C6C6C6"/>
<rect x="1041.54" y="2438.87" width="122.12" height="41.11" fill="#FDDAB9"/>
<rect x="1163.06" y="2357.86" width="122.12" height="41.11" fill="#FFF6EE"/>
<rect x="1163.06" y="2398.37" width="122.12" height="41.11" fill="#FFFFFF"/>
<rect x="1163.06" y="2438.87" width="122.12" height="41.11" fill="#FFF6EE"/>
<rect x="1284.58" y="2357.86" width="122.12" height="41.11" fill="#FFF8F1"/>
<rect x="1284.58" y="2398.37" width="122.12" height="41.11" fill="#FFFFFF"/>
<rect x="1284.58" y="2438.87" width="122.12" height="41.11" fill="#FFF8F1"/>
<rect x="1406.1" y="2357.86" width="122.12" height="41.11" fill="#FFF8F1"/>
<rect x="1406.1" y="2398.37" width="122.12" height="41.11" fill="#FFFFFF"/>
<rect x="1406.1" y="2438.87" width="122.12" height="41.11" fill="#FFF8F1"/>
<rect x="1527.62" y="2357.86" width="122.12" height="41.11" fill="#FFFEFE"/>
<rect x="1527.62" y="2398.37" width="122.12" height="41.11" fill="#FFFFFF"/>
<rect x="1527.62" y="2438.87" width="122.12" height="41.11" fill="#FFFEFE"/>
<rect x="1649.14" y="2357.86" width="122.12" height="41.11" fill="#FFFEFE"/>
<rect x="1649.14" y="2398.37" width="122.12" height="41.11" fill="#FFFFFF"/>
<rect x="1649.14" y="2438.87" width="122.12" height="41.11" fill="#FFFEFE"/>
<rect x="1892.18" y="2479.38" width="122.12" height="122.12" fill="#004431"/>
<rect x="190.9" y="2479.38" width="122.12" height="41.11" fill="#FDDAB9"/>
<rect x="190.9" y="2519.89" width="122.12" height="41.11" fill="#FFFFFF"/>
<rect x="190.9" y="2560.39" width="122.12" height="41.11" fill="#FDDAB9"/>
<rect x="312.42" y="2479.38" width="122.12" height="41.11" fill="#FDDAB9"/>
<rect x="312.42" y="2519.89" width="122.12" height="41.11" fill="#FFFFFF"/>
<rect x="312.42" y="2560.39" width="122.12" height="41.11" fill="#FDDAB9"/>
<rect x="433.94" y="2479.38" width="122.12" height="41.11" fill="#FDDAB9"/>
<rect x="433.94" y="2519.89" width="122.12" height="41.11" fill="#E2E2E2"/>
<rect x="433.94" y="2560.39" width="122.12" height="41.11" fill="#FDDAB9"/>
<rect x="555.46" y="2479.38" width="122.12" height="41.11" fill="#FDDAB9"/>
<rect x="555.46" y="2519.89" width="122.12" height="41.11" fill="#E2E2E2"/>
<rect x="555.46" y="2560.39" width="122.12" height="41.11" fill="#FDDAB9"/>
<rect x="676.98" y="2479.38" width="122.12" height="41.11" fill="#FDDAB9"/>
<rect x="676.98" y="2519.89" width="122.12" height="41.11" fill="#E2E2E2"/>
<rect x="676.98" y="2560.39" width="122.12" height="41.11" fill="#FDDAB9"/>
<rect x="798.5" y="2479.38" width="122.12" height="41.11" fill="#FDDAB9"/>
<rect x="798.5" y="2519.89" width="122.12" height="41.11" fill="#E2E2E2"/>
<rect x="798.5" y="2560.39" width="122.12" height="41.11" fill="#FDDAB9"/>
<rect x="920.02" y="2479.38" width="122.12" height="41.11" fill="#FDDAB9"/>
<rect x="920.02" y="2519.89" width="122.12" height="41.11" fill="#C6C6C6"/>
<rect x="920.02" y="2560.39" width="122.12" height="41.11" fill="#FDDAB9"/>
<rect x="1041.54" y="2479.38" width="122.12" height="41.11" fill="#FDDAB9"/>
<rect x="1041.54" y="2519.89" width="122.12" height="41.11" fill="#C6C6C6"/>
<rect x="1041.54" y="2560.39" width="122.12" height="41.11" fill="#FDDAB9"/>
<rect x="1163.06" y="2479.38" width="122.12" height="41.11" fill="#FFF6EE"/>
<rect x="1163.06" y="2519.89" width="122.12" height="41.11" fill="#FFFFFF"/>
<rect x="1163.06" y="2560.39" width="122.12" height="41.11" fill="#FFF6EE"/>
<rect x="1284.58" y="2479.38" width="122.12" height="41.11" fill="#FFF8F1"/>
<rect x="1284.58" y="2519.89" width="122.12" height="41.11" fill="#FFFFFF"/>
<rect x="1284.58" y="2560.39" width="122.12" height="41.11" fill="#FFF8F1"/>
<rect x="1406.1" y="2479.38" width="122.12" height="41.11" fill="#FFF8F1"/>
<rect x="1406.1" y="2519.89" width="122.12" height="41.11" fill="#FFFFFF"/>
<rect x="1406.1" y="2560.39" width="122.12" height="41.11" fill="#FFF8F1"/>
<rect x="1527.62" y="2479.38" width="122.12" height="41.11" fill="#FFFEFE"/>
<rect x="1527.62" y="2519.89" width="122.12" height="41.11" fill="#FFFFFF"/>
<rect x="1527.62" y="2560.39" width="122.12" height="41.11" fill="#FFFBF8"/>
<rect x="1649.14" y="2479.38" width="122.12" height="41.11" fill="#FFFEFE"/>
<rect x="1649.14" y="2519.89" width="122.12" height="41.11" fill="#FFFFFF"/>
<rect x="1649.14" y="2560.39" width="122.12" height="41.11" fill="#FFFBF8"/>
<rect x="1770.66" y="2479.38" width="122.12" height="41.11" fill="#FFFEFE"/>
<rect x="1770.66" y="2519.89" width="122.12" height="41.11" fill="#FFFFFF"/>
<rect x="1770.66" y="2560.39" width="122.12" height="41.11" fill="#FFFEFE"/>
<g>
<text transform="translate(251.66,855.06) scale(1,1.035)" font-size="45" text-anchor="middle">100.0</text>
<text transform="translate(373.18,855.06) scale(1,1.035)" font-size="45" text-anchor="middle">95.4</text>
<text transform="translate(494.7,855.06) scale(1,1.035)" font-size="45" text-anchor="middle">0.2</text>
<text transform="translate(616.22,855.06) scale(1,1.035)" font-size="45" text-anchor="middle">0.3</text>
<text transform="translate(737.74,855.06) scale(1,1.035)" font-size="45" text-anchor="middle">0.3</text>
<text transform="translate(859.26,855.06) scale(1,1.035)" font-size="45" text-anchor="middle">0.2</text>
<text transform="translate(980.78,855.06) scale(1,1.035)" font-size="45" text-anchor="middle">0.0</text>
<text transform="translate(1102.3,855.06) scale(1,1.035)" font-size="45" text-anchor="middle">0.0</text>
<text transform="translate(1223.82,855.06) scale(1,1.035)" font-size="45" text-anchor="middle">0.0</text>
<text transform="translate(1345.34,855.06) scale(1,1.035)" font-size="45" text-anchor="middle">0.1</text>
<text transform="translate(1466.86,855.06) scale(1,1.035)" font-size="45" text-anchor="middle">0.0</text>
<text transform="translate(1588.38,855.06) scale(1,1.035)" font-size="45" text-anchor="middle">0.0</text>
<text transform="translate(1709.9,855.06) scale(1,1.035)" font-size="45" text-anchor="middle">0.0</text>
<text transform="translate(1831.42,855.06) scale(1,1.035)" font-size="45" text-anchor="middle">0.0</text>
<text transform="translate(1952.94,855.06) scale(1,1.035)" font-size="45" text-anchor="middle">0.0</text>
<text transform="translate(373.18,976.58) scale(1,1.035)" font-size="45" text-anchor="middle">100.0</text>
<text transform="translate(494.7,976.58) scale(1,1.035)" font-size="45" text-anchor="middle">0.3</text>
<text transform="translate(616.22,976.58) scale(1,1.035)" font-size="45" text-anchor="middle">0.4</text>
<text transform="translate(737.74,976.58) scale(1,1.035)" font-size="45" text-anchor="middle">0.4</text>
<text transform="translate(859.26,976.58) scale(1,1.035)" font-size="45" text-anchor="middle">0.3</text>
<text transform="translate(980.78,976.58) scale(1,1.035)" font-size="45" text-anchor="middle">0.0</text>
<text transform="translate(1102.3,976.58) scale(1,1.035)" font-size="45" text-anchor="middle">0.0</text>
<text transform="translate(1223.82,976.58) scale(1,1.035)" font-size="45" text-anchor="middle">0.0</text>
<text transform="translate(1345.34,976.58) scale(1,1.035)" font-size="45" text-anchor="middle">0.1</text>
<text transform="translate(1466.86,976.58) scale(1,1.035)" font-size="45" text-anchor="middle">0.0</text>
<text transform="translate(1588.38,976.58) scale(1,1.035)" font-size="45" text-anchor="middle">0.0</text>
<text transform="translate(1709.9,976.58) scale(1,1.035)" font-size="45" text-anchor="middle">0.0</text>
<text transform="translate(1831.42,976.58) scale(1,1.035)" font-size="45" text-anchor="middle">0.1</text>
<text transform="translate(1952.94,976.58) scale(1,1.035)" font-size="45" text-anchor="middle">0.0</text>
<text transform="translate(251.66,927.57) scale(1,1.035)" font-size="22" text-anchor="middle">1.0</text>
<text transform="translate(251.66,968.08) scale(1,1.035)" font-size="22" text-anchor="middle">1.0</text>
<text transform="translate(251.66,1008.59) scale(1,1.035)" font-size="22" text-anchor="middle">1.0</text>
<text transform="translate(494.7,1098.1) scale(1,1.035)" font-size="45" text-anchor="middle">100.0</text>
<text transform="translate(616.22,1098.1) scale(1,1.035)" font-size="45" text-anchor="middle">86.8</text>
<text transform="translate(737.74,1098.1) scale(1,1.035)" font-size="45" text-anchor="middle">88.5</text>
<text transform="translate(859.26,1098.1) scale(1,1.035)" font-size="45" text-anchor="middle">88.2</text>
<text transform="translate(980.78,1098.1) scale(1,1.035)" font-size="45" text-anchor="middle">0.0</text>
<text transform="translate(1102.3,1098.1) scale(1,1.035)" font-size="45" text-anchor="middle">0.0</text>
<text transform="translate(1223.82,1098.1) scale(1,1.035)" font-size="45" text-anchor="middle">0.1</text>
<text transform="translate(1345.34,1098.1) scale(1,1.035)" font-size="45" text-anchor="middle">0.1</text>
<text transform="translate(1466.86,1098.1) scale(1,1.035)" font-size="45" text-anchor="middle">0.0</text>
<text transform="translate(1588.38,1098.1) scale(1,1.035)" font-size="45" text-anchor="middle">0.0</text>
<text transform="translate(1709.9,1098.1) scale(1,1.035)" font-size="45" text-anchor="middle">0.1</text>
<text transform="translate(1831.42,1098.1) scale(1,1.035)" font-size="45" text-anchor="middle">0.0</text>
<text transform="translate(1952.94,1098.1) scale(1,1.035)" font-size="45" text-anchor="middle">0.1</text>
<text transform="translate(251.66,1049.09) scale(1,1.035)" font-size="22" text-anchor="middle">0.0</text>
<text transform="translate(251.66,1089.6) scale(1,1.035)" font-size="22" text-anchor="middle">0.1</text>
<text transform="translate(251.66,1130.11) scale(1,1.035)" font-size="22" text-anchor="middle">0.0</text>
<text transform="translate(373.18,1049.09) scale(1,1.035)" font-size="22" text-anchor="middle">0.0</text>
<text transform="translate(373.18,1089.6) scale(1,1.035)" font-size="22" text-anchor="middle">0.1</text>
<text transform="translate(373.18,1130.11) scale(1,1.035)" font-size="22" text-anchor="middle">0.0</text>
<text transform="translate(616.22,1219.62) scale(1,1.035)" font-size="45" text-anchor="middle">100.0</text>
<text transform="translate(737.74,1219.62) scale(1,1.035)" font-size="45" text-anchor="middle">91.8</text>
<text transform="translate(859.26,1219.62) scale(1,1.035)" font-size="45" text-anchor="middle">90.2</text>
<text transform="translate(980.78,1219.62) scale(1,1.035)" font-size="45" text-anchor="middle">0.0</text>
<text transform="translate(1102.3,1219.62) scale(1,1.035)" font-size="45" text-anchor="middle">0.0</text>
<text transform="translate(1223.82,1219.62) scale(1,1.035)" font-size="45" text-anchor="middle">0.0</text>
<text transform="translate(1345.34,1219.62) scale(1,1.035)" font-size="45" text-anchor="middle">0.0</text>
<text transform="translate(1466.86,1219.62) scale(1,1.035)" font-size="45" text-anchor="middle">0.0</text>
<text transform="translate(1588.38,1219.62) scale(1,1.035)" font-size="45" text-anchor="middle">0.0</text>
<text transform="translate(1709.9,1219.62) scale(1,1.035)" font-size="45" text-anchor="middle">0.1</text>
<text transform="translate(1831.42,1219.62) scale(1,1.035)" font-size="45" text-anchor="middle">0.1</text>
<text transform="translate(1952.94,1219.62) scale(1,1.035)" font-size="45" text-anchor="middle">0.1</text>
<text transform="translate(251.66,1170.61) scale(1,1.035)" font-size="22" text-anchor="middle">0.0</text>
<text transform="translate(251.66,1211.12) scale(1,1.035)" font-size="22" text-anchor="middle">0.1</text>
<text transform="translate(251.66,1251.63) scale(1,1.035)" font-size="22" text-anchor="middle">0.0</text>
<text transform="translate(373.18,1170.61) scale(1,1.035)" font-size="22" text-anchor="middle">0.0</text>
<text transform="translate(373.18,1211.12) scale(1,1.035)" font-size="22" text-anchor="middle">0.1</text>
<text transform="translate(373.18,1251.63) scale(1,1.035)" font-size="22" text-anchor="middle">0.0</text>
<text transform="translate(494.7,1170.61) scale(1,1.035)" font-size="22" text-anchor="middle">0.9</text>
<text transform="translate(494.7,1211.12) scale(1,1.035)" font-size="22" text-anchor="middle">0.9</text>
<text transform="translate(494.7,1251.63) scale(1,1.035)" font-size="22" text-anchor="middle">0.9</text>
<text transform="translate(737.74,1341.14) scale(1,1.035)" font-size="45" text-anchor="middle">100.0</text>
<text transform="translate(859.26,1341.14) scale(1,1.035)" font-size="45" text-anchor="middle">93.5</text>
<text transform="translate(980.78,1341.14) scale(1,1.035)" font-size="45" text-anchor="middle">0.0</text>
<text transform="translate(1102.3,1341.14) scale(1,1.035)" font-size="45" text-anchor="middle">0.0</text>
<text transform="translate(1223.82,1341.14) scale(1,1.035)" font-size="45" text-anchor="middle">0.0</text>
<text transform="translate(1345.34,1341.14) scale(1,1.035)" font-size="45" text-anchor="middle">0.0</text>
<text transform="translate(1466.86,1341.14) scale(1,1.035)" font-size="45" text-anchor="middle">0.0</text>
<text transform="translate(1588.38,1341.14) scale(1,1.035)" font-size="45" text-anchor="middle">0.0</text>
<text transform="translate(1709.9,1341.14) scale(1,1.035)" font-size="45" text-anchor="middle">0.0</text>
<text transform="translate(1831.42,1341.14) scale(1,1.035)" font-size="45" text-anchor="middle">0.1</text>
<text transform="translate(1952.94,1341.14) scale(1,1.035)" font-size="45" text-anchor="middle">0.1</text>
<text transform="translate(251.66,1292.13) scale(1,1.035)" font-size="22" text-anchor="middle">0.0</text>
<text transform="translate(251.66,1332.64) scale(1,1.035)" font-size="22" text-anchor="middle">0.1</text>
<text transform="translate(251.66,1373.15) scale(1,1.035)" font-size="22" text-anchor="middle">0.0</text>
<text transform="translate(373.18,1292.13) scale(1,1.035)" font-size="22" text-anchor="middle">0.0</text>
<text transform="translate(373.18,1332.64) scale(1,1.035)" font-size="22" text-anchor="middle">0.1</text>
<text transform="translate(373.18,1373.15) scale(1,1.035)" font-size="22" text-anchor="middle">0.0</text>
<text transform="translate(494.7,1292.13) scale(1,1.035)" font-size="22" text-anchor="middle">0.9</text>
<text transform="translate(494.7,1332.64) scale(1,1.035)" font-size="22" text-anchor="middle">1.0</text>
<text transform="translate(494.7,1373.15) scale(1,1.035)" font-size="22" text-anchor="middle">0.9</text>
<text transform="translate(616.22,1292.13) scale(1,1.035)" font-size="22" text-anchor="middle">0.9</text>
<text transform="translate(616.22,1332.64) scale(1,1.035)" font-size="22" text-anchor="middle">1.0</text>
<text transform="translate(616.22,1373.15) scale(1,1.035)" font-size="22" text-anchor="middle">1.0</text>
<text transform="translate(859.26,1462.66) scale(1,1.035)" font-size="45" text-anchor="middle">100.0</text>
<text transform="translate(980.78,1462.66) scale(1,1.035)" font-size="45" text-anchor="middle">0.0</text>
<text transform="translate(1102.3,1462.66) scale(1,1.035)" font-size="45" text-anchor="middle">0.0</text>
<text transform="translate(1223.82,1462.66) scale(1,1.035)" font-size="45" text-anchor="middle">0.0</text>
<text transform="translate(1345.34,1462.66) scale(1,1.035)" font-size="45" text-anchor="middle">0.0</text>
<text transform="translate(1466.86,1462.66) scale(1,1.035)" font-size="45" text-anchor="middle">0.0</text>
<text transform="translate(1588.38,1462.66) scale(1,1.035)" font-size="45" text-anchor="middle">0.0</text>
<text transform="translate(1709.9,1462.66) scale(1,1.035)" font-size="45" text-anchor="middle">0.0</text>
<text transform="translate(1831.42,1462.66) scale(1,1.035)" font-size="45" text-anchor="middle">0.1</text>
<text transform="translate(1952.94,1462.66) scale(1,1.035)" font-size="45" text-anchor="middle">0.0</text>
<text transform="translate(251.66,1413.65) scale(1,1.035)" font-size="22" text-anchor="middle">0.0</text>
<text transform="translate(251.66,1454.16) scale(1,1.035)" font-size="22" text-anchor="middle">0.1</text>
<text transform="translate(251.66,1494.67) scale(1,1.035)" font-size="22" text-anchor="middle">0.0</text>
<text transform="translate(373.18,1413.65) scale(1,1.035)" font-size="22" text-anchor="middle">0.0</text>
<text transform="translate(373.18,1454.16) scale(1,1.035)" font-size="22" text-anchor="middle">0.1</text>
<text transform="translate(373.18,1494.67) scale(1,1.035)" font-size="22" text-anchor="middle">0.0</text>
<text transform="translate(494.7,1413.65) scale(1,1.035)" font-size="22" text-anchor="middle">0.9</text>
<text transform="translate(494.7,1454.16) scale(1,1.035)" font-size="22" text-anchor="middle">1.0</text>
<text transform="translate(494.7,1494.67) scale(1,1.035)" font-size="22" text-anchor="middle">0.9</text>
<text transform="translate(616.22,1413.65) scale(1,1.035)" font-size="22" text-anchor="middle">0.9</text>
<text transform="translate(616.22,1454.16) scale(1,1.035)" font-size="22" text-anchor="middle">0.9</text>
<text transform="translate(616.22,1494.67) scale(1,1.035)" font-size="22" text-anchor="middle">0.9</text>
<text transform="translate(737.74,1413.65) scale(1,1.035)" font-size="22" text-anchor="middle">1.0</text>
<text transform="translate(737.74,1454.16) scale(1,1.035)" font-size="22" text-anchor="middle">1.0</text>
<text transform="translate(737.74,1494.67) scale(1,1.035)" font-size="22" text-anchor="middle">1.0</text>
<text transform="translate(980.78,1584.18) scale(1,1.035)" font-size="45" text-anchor="middle">100.0</text>
<text transform="translate(1102.3,1584.18) scale(1,1.035)" font-size="45" text-anchor="middle">89.6</text>
<text transform="translate(1223.82,1584.18) scale(1,1.035)" font-size="45" text-anchor="middle">0.3</text>
<text transform="translate(1345.34,1584.18) scale(1,1.035)" font-size="45" text-anchor="middle">0.1</text>
<text transform="translate(1466.86,1584.18) scale(1,1.035)" font-size="45" text-anchor="middle">0.1</text>
<text transform="translate(1588.38,1584.18) scale(1,1.035)" font-size="45" text-anchor="middle">0.3</text>
<text transform="translate(1709.9,1584.18) scale(1,1.035)" font-size="45" text-anchor="middle">0.3</text>
<text transform="translate(1831.42,1584.18) scale(1,1.035)" font-size="45" text-anchor="middle">0.3</text>
<text transform="translate(1952.94,1584.18) scale(1,1.035)" font-size="45" text-anchor="middle">0.3</text>
<text transform="translate(251.66,1535.17) scale(1,1.035)" font-size="22" text-anchor="middle">0.0</text>
<text transform="translate(251.66,1575.68) scale(1,1.035)" font-size="22" text-anchor="middle">NA</text>
<text transform="translate(251.66,1616.19) scale(1,1.035)" font-size="22" text-anchor="middle">0.0</text>
<text transform="translate(373.18,1535.17) scale(1,1.035)" font-size="22" text-anchor="middle">0.0</text>
<text transform="translate(373.18,1575.68) scale(1,1.035)" font-size="22" text-anchor="middle">NA</text>
<text transform="translate(373.18,1616.19) scale(1,1.035)" font-size="22" text-anchor="middle">0.0</text>
<text transform="translate(494.7,1535.17) scale(1,1.035)" font-size="22" text-anchor="middle">0.0</text>
<text transform="translate(494.7,1575.68) scale(1,1.035)" font-size="22" text-anchor="middle">NA</text>
<text transform="translate(494.7,1616.19) scale(1,1.035)" font-size="22" text-anchor="middle">0.0</text>
<text transform="translate(616.22,1535.17) scale(1,1.035)" font-size="22" text-anchor="middle">0.0</text>
<text transform="translate(616.22,1575.68) scale(1,1.035)" font-size="22" text-anchor="middle">0.9</text>
<text transform="translate(616.22,1616.19) scale(1,1.035)" font-size="22" text-anchor="middle">0.0</text>
<text transform="translate(737.74,1535.17) scale(1,1.035)" font-size="22" text-anchor="middle">0.0</text>
<text transform="translate(737.74,1575.68) scale(1,1.035)" font-size="22" text-anchor="middle">1.0</text>
<text transform="translate(737.74,1616.19) scale(1,1.035)" font-size="22" text-anchor="middle">0.0</text>
<text transform="translate(859.26,1535.17) scale(1,1.035)" font-size="22" text-anchor="middle">0.0</text>
<text transform="translate(859.26,1575.68) scale(1,1.035)" font-size="22" text-anchor="middle">1.0</text>
<text transform="translate(859.26,1616.19) scale(1,1.035)" font-size="22" text-anchor="middle">0.0</text>
<text transform="translate(1102.3,1705.7) scale(1,1.035)" font-size="45" text-anchor="middle">100.0</text>
<text transform="translate(1223.82,1705.7) scale(1,1.035)" font-size="45" text-anchor="middle">0.2</text>
<text transform="translate(1345.34,1705.7) scale(1,1.035)" font-size="45" text-anchor="middle">0.1</text>
<text transform="translate(1466.86,1705.7) scale(1,1.035)" font-size="45" text-anchor="middle">0.1</text>
<text transform="translate(1588.38,1705.7) scale(1,1.035)" font-size="45" text-anchor="middle">0.3</text>
<text transform="translate(1709.9,1705.7) scale(1,1.035)" font-size="45" text-anchor="middle">0.2</text>
<text transform="translate(1831.42,1705.7) scale(1,1.035)" font-size="45" text-anchor="middle">0.3</text>
<text transform="translate(1952.94,1705.7) scale(1,1.035)" font-size="45" text-anchor="middle">0.2</text>
<text transform="translate(251.66,1656.69) scale(1,1.035)" font-size="22" text-anchor="middle">0.0</text>
<text transform="translate(251.66,1697.2) scale(1,1.035)" font-size="22" text-anchor="middle">NA</text>
<text transform="translate(251.66,1737.71) scale(1,1.035)" font-size="22" text-anchor="middle">0.0</text>
<text transform="translate(373.18,1656.69) scale(1,1.035)" font-size="22" text-anchor="middle">0.0</text>
<text transform="translate(373.18,1697.2) scale(1,1.035)" font-size="22" text-anchor="middle">NA</text>
<text transform="translate(373.18,1737.71) scale(1,1.035)" font-size="22" text-anchor="middle">0.0</text>
<text transform="translate(494.7,1656.69) scale(1,1.035)" font-size="22" text-anchor="middle">0.0</text>
<text transform="translate(494.7,1697.2) scale(1,1.035)" font-size="22" text-anchor="middle">NA</text>
<text transform="translate(494.7,1737.71) scale(1,1.035)" font-size="22" text-anchor="middle">0.0</text>
<text transform="translate(616.22,1656.69) scale(1,1.035)" font-size="22" text-anchor="middle">0.0</text>
<text transform="translate(616.22,1697.2) scale(1,1.035)" font-size="22" text-anchor="middle">NA</text>
<text transform="translate(616.22,1737.71) scale(1,1.035)" font-size="22" text-anchor="middle">0.0</text>
<text transform="translate(737.74,1656.69) scale(1,1.035)" font-size="22" text-anchor="middle">0.0</text>
<text transform="translate(737.74,1697.2) scale(1,1.035)" font-size="22" text-anchor="middle">0.9</text>
<text transform="translate(737.74,1737.71) scale(1,1.035)" font-size="22" text-anchor="middle">0.0</text>
<text transform="translate(859.26,1656.69) scale(1,1.035)" font-size="22" text-anchor="middle">0.0</text>
<text transform="translate(859.26,1697.2) scale(1,1.035)" font-size="22" text-anchor="middle">NA</text>
<text transform="translate(859.26,1737.71) scale(1,1.035)" font-size="22" text-anchor="middle">0.0</text>
<text transform="translate(980.78,1656.69) scale(1,1.035)" font-size="22" text-anchor="middle">0.9</text>
<text transform="translate(980.78,1697.2) scale(1,1.035)" font-size="22" text-anchor="middle">1.0</text>
<text transform="translate(980.78,1737.71) scale(1,1.035)" font-size="22" text-anchor="middle">0.9</text>
<text transform="translate(1223.82,1827.22) scale(1,1.035)" font-size="45" text-anchor="middle">100.0</text>
<text transform="translate(1345.34,1827.22) scale(1,1.035)" font-size="45" text-anchor="middle">92.9</text>
<text transform="translate(1466.86,1827.22) scale(1,1.035)" font-size="45" text-anchor="middle">93.3</text>
<text transform="translate(1588.38,1827.22) scale(1,1.035)" font-size="45" text-anchor="middle">56.7</text>
<text transform="translate(1709.9,1827.22) scale(1,1.035)" font-size="45" text-anchor="middle">56.5</text>
<text transform="translate(1831.42,1827.22) scale(1,1.035)" font-size="45" text-anchor="middle">55.8</text>
<text transform="translate(1952.94,1827.22) scale(1,1.035)" font-size="45" text-anchor="middle">55.3</text>
<text transform="translate(251.66,1778.21) scale(1,1.035)" font-size="22" text-anchor="middle">0.0</text>
<text transform="translate(251.66,1818.72) scale(1,1.035)" font-size="22" text-anchor="middle">NA</text>
<text transform="translate(251.66,1859.23) scale(1,1.035)" font-size="22" text-anchor="middle">0.0</text>
<text transform="translate(373.18,1778.21) scale(1,1.035)" font-size="22" text-anchor="middle">0.0</text>
<text transform="translate(373.18,1818.72) scale(1,1.035)" font-size="22" text-anchor="middle">NA</text>
<text transform="translate(373.18,1859.23) scale(1,1.035)" font-size="22" text-anchor="middle">0.0</text>
<text transform="translate(494.7,1778.21) scale(1,1.035)" font-size="22" text-anchor="middle">0.0</text>
<text transform="translate(494.7,1818.72) scale(1,1.035)" font-size="22" text-anchor="middle">0.8</text>
<text transform="translate(494.7,1859.23) scale(1,1.035)" font-size="22" text-anchor="middle">0.0</text>
<text transform="translate(616.22,1778.21) scale(1,1.035)" font-size="22" text-anchor="middle">0.0</text>
<text transform="translate(616.22,1818.72) scale(1,1.035)" font-size="22" text-anchor="middle">0.9</text>
<text transform="translate(616.22,1859.23) scale(1,1.035)" font-size="22" text-anchor="middle">0.0</text>
<text transform="translate(737.74,1778.21) scale(1,1.035)" font-size="22" text-anchor="middle">0.0</text>
<text transform="translate(737.74,1818.72) scale(1,1.035)" font-size="22" text-anchor="middle">0.8</text>
<text transform="translate(737.74,1859.23) scale(1,1.035)" font-size="22" text-anchor="middle">0.0</text>
<text transform="translate(859.26,1778.21) scale(1,1.035)" font-size="22" text-anchor="middle">0.0</text>
<text transform="translate(859.26,1818.72) scale(1,1.035)" font-size="22" text-anchor="middle">0.8</text>
<text transform="translate(859.26,1859.23) scale(1,1.035)" font-size="22" text-anchor="middle">0.0</text>
<text transform="translate(980.78,1778.21) scale(1,1.035)" font-size="22" text-anchor="middle">0.0</text>
<text transform="translate(980.78,1818.72) scale(1,1.035)" font-size="22" text-anchor="middle">0.8</text>
<text transform="translate(980.78,1859.23) scale(1,1.035)" font-size="22" text-anchor="middle">0.0</text>
<text transform="translate(1102.3,1778.21) scale(1,1.035)" font-size="22" text-anchor="middle">0.0</text>
<text transform="translate(1102.3,1818.72) scale(1,1.035)" font-size="22" text-anchor="middle">0.8</text>
<text transform="translate(1102.3,1859.23) scale(1,1.035)" font-size="22" text-anchor="middle">0.0</text>
<text transform="translate(1345.34,1948.74) scale(1,1.035)" font-size="45" text-anchor="middle">100.0</text>
<text transform="translate(1466.86,1948.74) scale(1,1.035)" font-size="45" text-anchor="middle">95.7</text>
<text transform="translate(1588.38,1948.74) scale(1,1.035)" font-size="45" text-anchor="middle">58.1</text>
<text transform="translate(1709.9,1948.74) scale(1,1.035)" font-size="45" text-anchor="middle">58.0</text>
<text transform="translate(1831.42,1948.74) scale(1,1.035)" font-size="45" text-anchor="middle">56.5</text>
<text transform="translate(1952.94,1948.74) scale(1,1.035)" font-size="45" text-anchor="middle">57.0</text>
<text transform="translate(251.66,1899.73) scale(1,1.035)" font-size="22" text-anchor="middle">0.0</text>
<text transform="translate(251.66,1940.24) scale(1,1.035)" font-size="22" text-anchor="middle">0.1</text>
<text transform="translate(251.66,1980.75) scale(1,1.035)" font-size="22" text-anchor="middle">0.0</text>
<text transform="translate(373.18,1899.73) scale(1,1.035)" font-size="22" text-anchor="middle">0.0</text>
<text transform="translate(373.18,1940.24) scale(1,1.035)" font-size="22" text-anchor="middle">0.1</text>
<text transform="translate(373.18,1980.75) scale(1,1.035)" font-size="22" text-anchor="middle">0.0</text>
<text transform="translate(494.7,1899.73) scale(1,1.035)" font-size="22" text-anchor="middle">0.0</text>
<text transform="translate(494.7,1940.24) scale(1,1.035)" font-size="22" text-anchor="middle">0.8</text>
<text transform="translate(494.7,1980.75) scale(1,1.035)" font-size="22" text-anchor="middle">0.0</text>
<text transform="translate(616.22,1899.73) scale(1,1.035)" font-size="22" text-anchor="middle">0.0</text>
<text transform="translate(616.22,1940.24) scale(1,1.035)" font-size="22" text-anchor="middle">0.9</text>
<text transform="translate(616.22,1980.75) scale(1,1.035)" font-size="22" text-anchor="middle">0.0</text>
<text transform="translate(737.74,1899.73) scale(1,1.035)" font-size="22" text-anchor="middle">0.0</text>
<text transform="translate(737.74,1940.24) scale(1,1.035)" font-size="22" text-anchor="middle">0.8</text>
<text transform="translate(737.74,1980.75) scale(1,1.035)" font-size="22" text-anchor="middle">0.0</text>
<text transform="translate(859.26,1899.73) scale(1,1.035)" font-size="22" text-anchor="middle">0.0</text>
<text transform="translate(859.26,1940.24) scale(1,1.035)" font-size="22" text-anchor="middle">0.8</text>
<text transform="translate(859.26,1980.75) scale(1,1.035)" font-size="22" text-anchor="middle">0.0</text>
<text transform="translate(980.78,1899.73) scale(1,1.035)" font-size="22" text-anchor="middle">0.0</text>
<text transform="translate(980.78,1940.24) scale(1,1.035)" font-size="22" text-anchor="middle">0.8</text>
<text transform="translate(980.78,1980.75) scale(1,1.035)" font-size="22" text-anchor="middle">0.0</text>
<text transform="translate(1102.3,1899.73) scale(1,1.035)" font-size="22" text-anchor="middle">0.0</text>
<text transform="translate(1102.3,1940.24) scale(1,1.035)" font-size="22" text-anchor="middle">0.8</text>
<text transform="translate(1102.3,1980.75) scale(1,1.035)" font-size="22" text-anchor="middle">0.0</text>
<text transform="translate(1223.82,1899.73) scale(1,1.035)" font-size="22" text-anchor="middle">1.0</text>
<text transform="translate(1223.82,1940.24) scale(1,1.035)" font-size="22" text-anchor="middle">1.0</text>
<text transform="translate(1223.82,1980.75) scale(1,1.035)" font-size="22" text-anchor="middle">1.0</text>
<text transform="translate(1466.86,2070.26) scale(1,1.035)" font-size="45" text-anchor="middle">100.0</text>
<text transform="translate(1588.38,2070.26) scale(1,1.035)" font-size="45" text-anchor="middle">58.3</text>
<text transform="translate(1709.9,2070.26) scale(1,1.035)" font-size="45" text-anchor="middle">58.1</text>
<text transform="translate(1831.42,2070.26) scale(1,1.035)" font-size="45" text-anchor="middle">57.2</text>
<text transform="translate(1952.94,2070.26) scale(1,1.035)" font-size="45" text-anchor="middle">57.4</text>
<text transform="translate(251.66,2021.25) scale(1,1.035)" font-size="22" text-anchor="middle">0.0</text>
<text transform="translate(251.66,2061.76) scale(1,1.035)" font-size="22" text-anchor="middle">NA</text>
<text transform="translate(251.66,2102.27) scale(1,1.035)" font-size="22" text-anchor="middle">0.0</text>
<text transform="translate(373.18,2021.25) scale(1,1.035)" font-size="22" text-anchor="middle">0.0</text>
<text transform="translate(373.18,2061.76) scale(1,1.035)" font-size="22" text-anchor="middle">NA</text>
<text transform="translate(373.18,2102.27) scale(1,1.035)" font-size="22" text-anchor="middle">0.0</text>
<text transform="translate(494.7,2021.25) scale(1,1.035)" font-size="22" text-anchor="middle">0.0</text>
<text transform="translate(494.7,2061.76) scale(1,1.035)" font-size="22" text-anchor="middle">0.8</text>
<text transform="translate(494.7,2102.27) scale(1,1.035)" font-size="22" text-anchor="middle">0.0</text>
<text transform="translate(616.22,2021.25) scale(1,1.035)" font-size="22" text-anchor="middle">0.0</text>
<text transform="translate(616.22,2061.76) scale(1,1.035)" font-size="22" text-anchor="middle">0.9</text>
<text transform="translate(616.22,2102.27) scale(1,1.035)" font-size="22" text-anchor="middle">0.0</text>
<text transform="translate(737.74,2021.25) scale(1,1.035)" font-size="22" text-anchor="middle">0.0</text>
<text transform="translate(737.74,2061.76) scale(1,1.035)" font-size="22" text-anchor="middle">0.9</text>
<text transform="translate(737.74,2102.27) scale(1,1.035)" font-size="22" text-anchor="middle">0.0</text>
<text transform="translate(859.26,2021.25) scale(1,1.035)" font-size="22" text-anchor="middle">0.0</text>
<text transform="translate(859.26,2061.76) scale(1,1.035)" font-size="22" text-anchor="middle">0.8</text>
<text transform="translate(859.26,2102.27) scale(1,1.035)" font-size="22" text-anchor="middle">0.0</text>
<text transform="translate(980.78,2021.25) scale(1,1.035)" font-size="22" text-anchor="middle">0.0</text>
<text transform="translate(980.78,2061.76) scale(1,1.035)" font-size="22" text-anchor="middle">0.8</text>
<text transform="translate(980.78,2102.27) scale(1,1.035)" font-size="22" text-anchor="middle">0.0</text>
<text transform="translate(1102.3,2021.25) scale(1,1.035)" font-size="22" text-anchor="middle">0.0</text>
<text transform="translate(1102.3,2061.76) scale(1,1.035)" font-size="22" text-anchor="middle">0.8</text>
<text transform="translate(1102.3,2102.27) scale(1,1.035)" font-size="22" text-anchor="middle">0.0</text>
<text transform="translate(1223.82,2021.25) scale(1,1.035)" font-size="22" text-anchor="middle">1.0</text>
<text transform="translate(1223.82,2061.76) scale(1,1.035)" font-size="22" text-anchor="middle">1.0</text>
<text transform="translate(1223.82,2102.27) scale(1,1.035)" font-size="22" text-anchor="middle">1.0</text>
<text transform="translate(1345.34,2021.25) scale(1,1.035)" font-size="22" text-anchor="middle">1.0</text>
<text transform="translate(1345.34,2061.76) scale(1,1.035)" font-size="22" text-anchor="middle">1.0</text>
<text transform="translate(1345.34,2102.27) scale(1,1.035)" font-size="22" text-anchor="middle">1.0</text>
<text transform="translate(1588.38,2191.78) scale(1,1.035)" font-size="45" text-anchor="middle">100.0</text>
<text transform="translate(1709.9,2191.78) scale(1,1.035)" font-size="45" text-anchor="middle">96.0</text>
<text transform="translate(1831.42,2191.78) scale(1,1.035)" font-size="45" text-anchor="middle">91.7</text>
<text transform="translate(1952.94,2191.78) scale(1,1.035)" font-size="45" text-anchor="middle">90.6</text>
<text transform="translate(251.66,2142.77) scale(1,1.035)" font-size="22" text-anchor="middle">0.0</text>
<text transform="translate(251.66,2183.28) scale(1,1.035)" font-size="22" text-anchor="middle">NA</text>
<text transform="translate(251.66,2223.79) scale(1,1.035)" font-size="22" text-anchor="middle">0.0</text>
<text transform="translate(373.18,2142.77) scale(1,1.035)" font-size="22" text-anchor="middle">0.0</text>
<text transform="translate(373.18,2183.28) scale(1,1.035)" font-size="22" text-anchor="middle">NA</text>
<text transform="translate(373.18,2223.79) scale(1,1.035)" font-size="22" text-anchor="middle">0.0</text>
<text transform="translate(494.7,2142.77) scale(1,1.035)" font-size="22" text-anchor="middle">0.0</text>
<text transform="translate(494.7,2183.28) scale(1,1.035)" font-size="22" text-anchor="middle">0.8</text>
<text transform="translate(494.7,2223.79) scale(1,1.035)" font-size="22" text-anchor="middle">0.0</text>
<text transform="translate(616.22,2142.77) scale(1,1.035)" font-size="22" text-anchor="middle">0.0</text>
<text transform="translate(616.22,2183.28) scale(1,1.035)" font-size="22" text-anchor="middle">0.9</text>
<text transform="translate(616.22,2223.79) scale(1,1.035)" font-size="22" text-anchor="middle">0.0</text>
<text transform="translate(737.74,2142.77) scale(1,1.035)" font-size="22" text-anchor="middle">0.0</text>
<text transform="translate(737.74,2183.28) scale(1,1.035)" font-size="22" text-anchor="middle">NA</text>
<text transform="translate(737.74,2223.79) scale(1,1.035)" font-size="22" text-anchor="middle">0.0</text>
<text transform="translate(859.26,2142.77) scale(1,1.035)" font-size="22" text-anchor="middle">0.0</text>
<text transform="translate(859.26,2183.28) scale(1,1.035)" font-size="22" text-anchor="middle">0.8</text>
<text transform="translate(859.26,2223.79) scale(1,1.035)" font-size="22" text-anchor="middle">0.0</text>
<text transform="translate(980.78,2142.77) scale(1,1.035)" font-size="22" text-anchor="middle">0.0</text>
<text transform="translate(980.78,2183.28) scale(1,1.035)" font-size="22" text-anchor="middle">0.8</text>
<text transform="translate(980.78,2223.79) scale(1,1.035)" font-size="22" text-anchor="middle">0.0</text>
<text transform="translate(1102.3,2142.77) scale(1,1.035)" font-size="22" text-anchor="middle">0.0</text>
<text transform="translate(1102.3,2183.28) scale(1,1.035)" font-size="22" text-anchor="middle">0.8</text>
<text transform="translate(1102.3,2223.79) scale(1,1.035)" font-size="22" text-anchor="middle">0.0</text>
<text transform="translate(1223.82,2142.77) scale(1,1.035)" font-size="22" text-anchor="middle">0.8</text>
<text transform="translate(1223.82,2183.28) scale(1,1.035)" font-size="22" text-anchor="middle">1.0</text>
<text transform="translate(1223.82,2223.79) scale(1,1.035)" font-size="22" text-anchor="middle">0.7</text>
<text transform="translate(1345.34,2142.77) scale(1,1.035)" font-size="22" text-anchor="middle">0.8</text>
<text transform="translate(1345.34,2183.28) scale(1,1.035)" font-size="22" text-anchor="middle">1.0</text>
<text transform="translate(1345.34,2223.79) scale(1,1.035)" font-size="22" text-anchor="middle">0.8</text>
<text transform="translate(1466.86,2142.77) scale(1,1.035)" font-size="22" text-anchor="middle">0.8</text>
<text transform="translate(1466.86,2183.28) scale(1,1.035)" font-size="22" text-anchor="middle">1.0</text>
<text transform="translate(1466.86,2223.79) scale(1,1.035)" font-size="22" text-anchor="middle">0.8</text>
<text transform="translate(1709.9,2313.3) scale(1,1.035)" font-size="45" text-anchor="middle">100.0</text>
<text transform="translate(1831.42,2313.3) scale(1,1.035)" font-size="45" text-anchor="middle">92.1</text>
<text transform="translate(1952.94,2313.3) scale(1,1.035)" font-size="45" text-anchor="middle">90.7</text>
<text transform="translate(251.66,2264.29) scale(1,1.035)" font-size="22" text-anchor="middle">0.0</text>
<text transform="translate(251.66,2304.8) scale(1,1.035)" font-size="22" text-anchor="middle">NA</text>
<text transform="translate(251.66,2345.31) scale(1,1.035)" font-size="22" text-anchor="middle">0.0</text>
<text transform="translate(373.18,2264.29) scale(1,1.035)" font-size="22" text-anchor="middle">0.0</text>
<text transform="translate(373.18,2304.8) scale(1,1.035)" font-size="22" text-anchor="middle">NA</text>
<text transform="translate(373.18,2345.31) scale(1,1.035)" font-size="22" text-anchor="middle">0.0</text>
<text transform="translate(494.7,2264.29) scale(1,1.035)" font-size="22" text-anchor="middle">0.0</text>
<text transform="translate(494.7,2304.8) scale(1,1.035)" font-size="22" text-anchor="middle">0.8</text>
<text transform="translate(494.7,2345.31) scale(1,1.035)" font-size="22" text-anchor="middle">0.0</text>
<text transform="translate(616.22,2264.29) scale(1,1.035)" font-size="22" text-anchor="middle">0.0</text>
<text transform="translate(616.22,2304.8) scale(1,1.035)" font-size="22" text-anchor="middle">0.9</text>
<text transform="translate(616.22,2345.31) scale(1,1.035)" font-size="22" text-anchor="middle">0.0</text>
<text transform="translate(737.74,2264.29) scale(1,1.035)" font-size="22" text-anchor="middle">0.0</text>
<text transform="translate(737.74,2304.8) scale(1,1.035)" font-size="22" text-anchor="middle">0.9</text>
<text transform="translate(737.74,2345.31) scale(1,1.035)" font-size="22" text-anchor="middle">0.0</text>
<text transform="translate(859.26,2264.29) scale(1,1.035)" font-size="22" text-anchor="middle">0.0</text>
<text transform="translate(859.26,2304.8) scale(1,1.035)" font-size="22" text-anchor="middle">0.8</text>
<text transform="translate(859.26,2345.31) scale(1,1.035)" font-size="22" text-anchor="middle">0.0</text>
<text transform="translate(980.78,2264.29) scale(1,1.035)" font-size="22" text-anchor="middle">0.0</text>
<text transform="translate(980.78,2304.8) scale(1,1.035)" font-size="22" text-anchor="middle">0.8</text>
<text transform="translate(980.78,2345.31) scale(1,1.035)" font-size="22" text-anchor="middle">0.0</text>
<text transform="translate(1102.3,2264.29) scale(1,1.035)" font-size="22" text-anchor="middle">0.0</text>
<text transform="translate(1102.3,2304.8) scale(1,1.035)" font-size="22" text-anchor="middle">0.8</text>
<text transform="translate(1102.3,2345.31) scale(1,1.035)" font-size="22" text-anchor="middle">0.0</text>
<text transform="translate(1223.82,2264.29) scale(1,1.035)" font-size="22" text-anchor="middle">0.8</text>
<text transform="translate(1223.82,2304.8) scale(1,1.035)" font-size="22" text-anchor="middle">1.0</text>
<text transform="translate(1223.82,2345.31) scale(1,1.035)" font-size="22" text-anchor="middle">0.7</text>
<text transform="translate(1345.34,2264.29) scale(1,1.035)" font-size="22" text-anchor="middle">0.8</text>
<text transform="translate(1345.34,2304.8) scale(1,1.035)" font-size="22" text-anchor="middle">1.0</text>
<text transform="translate(1345.34,2345.31) scale(1,1.035)" font-size="22" text-anchor="middle">0.8</text>
<text transform="translate(1466.86,2264.29) scale(1,1.035)" font-size="22" text-anchor="middle">0.8</text>
<text transform="translate(1466.86,2304.8) scale(1,1.035)" font-size="22" text-anchor="middle">1.0</text>
<text transform="translate(1466.86,2345.31) scale(1,1.035)" font-size="22" text-anchor="middle">0.8</text>
<text transform="translate(1588.38,2264.29) scale(1,1.035)" font-size="22" text-anchor="middle">1.0</text>
<text transform="translate(1588.38,2304.8) scale(1,1.035)" font-size="22" text-anchor="middle">1.0</text>
<text transform="translate(1588.38,2345.31) scale(1,1.035)" font-size="22" text-anchor="middle">1.0</text>
<text transform="translate(1831.42,2434.82) scale(1,1.035)" font-size="45" text-anchor="middle">100.0</text>
<text transform="translate(1952.94,2434.82) scale(1,1.035)" font-size="45" text-anchor="middle">91.9</text>
<text transform="translate(251.66,2385.81) scale(1,1.035)" font-size="22" text-anchor="middle">0.0</text>
<text transform="translate(251.66,2426.32) scale(1,1.035)" font-size="22" text-anchor="middle">NA</text>
<text transform="translate(251.66,2466.83) scale(1,1.035)" font-size="22" text-anchor="middle">0.0</text>
<text transform="translate(373.18,2385.81) scale(1,1.035)" font-size="22" text-anchor="middle">0.0</text>
<text transform="translate(373.18,2426.32) scale(1,1.035)" font-size="22" text-anchor="middle">NA</text>
<text transform="translate(373.18,2466.83) scale(1,1.035)" font-size="22" text-anchor="middle">0.0</text>
<text transform="translate(494.7,2385.81) scale(1,1.035)" font-size="22" text-anchor="middle">0.0</text>
<text transform="translate(494.7,2426.32) scale(1,1.035)" font-size="22" text-anchor="middle">0.8</text>
<text transform="translate(494.7,2466.83) scale(1,1.035)" font-size="22" text-anchor="middle">0.0</text>
<text transform="translate(616.22,2385.81) scale(1,1.035)" font-size="22" text-anchor="middle">0.0</text>
<text transform="translate(616.22,2426.32) scale(1,1.035)" font-size="22" text-anchor="middle">0.9</text>
<text transform="translate(616.22,2466.83) scale(1,1.035)" font-size="22" text-anchor="middle">0.0</text>
<text transform="translate(737.74,2385.81) scale(1,1.035)" font-size="22" text-anchor="middle">0.0</text>
<text transform="translate(737.74,2426.32) scale(1,1.035)" font-size="22" text-anchor="middle">0.9</text>
<text transform="translate(737.74,2466.83) scale(1,1.035)" font-size="22" text-anchor="middle">0.0</text>
<text transform="translate(859.26,2385.81) scale(1,1.035)" font-size="22" text-anchor="middle">0.0</text>
<text transform="translate(859.26,2426.32) scale(1,1.035)" font-size="22" text-anchor="middle">0.8</text>
<text transform="translate(859.26,2466.83) scale(1,1.035)" font-size="22" text-anchor="middle">0.0</text>
<text transform="translate(980.78,2385.81) scale(1,1.035)" font-size="22" text-anchor="middle">0.0</text>
<text transform="translate(980.78,2426.32) scale(1,1.035)" font-size="22" text-anchor="middle">0.8</text>
<text transform="translate(980.78,2466.83) scale(1,1.035)" font-size="22" text-anchor="middle">0.0</text>
<text transform="translate(1102.3,2385.81) scale(1,1.035)" font-size="22" text-anchor="middle">0.0</text>
<text transform="translate(1102.3,2426.32) scale(1,1.035)" font-size="22" text-anchor="middle">0.8</text>
<text transform="translate(1102.3,2466.83) scale(1,1.035)" font-size="22" text-anchor="middle">0.0</text>
<text transform="translate(1223.82,2385.81) scale(1,1.035)" font-size="22" text-anchor="middle">0.7</text>
<text transform="translate(1223.82,2426.32) scale(1,1.035)" font-size="22" text-anchor="middle">1.0</text>
<text transform="translate(1223.82,2466.83) scale(1,1.035)" font-size="22" text-anchor="middle">0.7</text>
<text transform="translate(1345.34,2385.81) scale(1,1.035)" font-size="22" text-anchor="middle">0.8</text>
<text transform="translate(1345.34,2426.32) scale(1,1.035)" font-size="22" text-anchor="middle">1.0</text>
<text transform="translate(1345.34,2466.83) scale(1,1.035)" font-size="22" text-anchor="middle">0.8</text>
<text transform="translate(1466.86,2385.81) scale(1,1.035)" font-size="22" text-anchor="middle">0.8</text>
<text transform="translate(1466.86,2426.32) scale(1,1.035)" font-size="22" text-anchor="middle">1.0</text>
<text transform="translate(1466.86,2466.83) scale(1,1.035)" font-size="22" text-anchor="middle">0.8</text>
<text transform="translate(1588.38,2385.81) scale(1,1.035)" font-size="22" text-anchor="middle">1.0</text>
<text transform="translate(1588.38,2426.32) scale(1,1.035)" font-size="22" text-anchor="middle">1.0</text>
<text transform="translate(1588.38,2466.83) scale(1,1.035)" font-size="22" text-anchor="middle">1.0</text>
<text transform="translate(1709.9,2385.81) scale(1,1.035)" font-size="22" text-anchor="middle">1.0</text>
<text transform="translate(1709.9,2426.32) scale(1,1.035)" font-size="22" text-anchor="middle">1.0</text>
<text transform="translate(1709.9,2466.83) scale(1,1.035)" font-size="22" text-anchor="middle">1.0</text>
<text transform="translate(1952.94,2556.34) scale(1,1.035)" font-size="45" text-anchor="middle">100.0</text>
<text transform="translate(251.66,2507.33) scale(1,1.035)" font-size="22" text-anchor="middle">0.0</text>
<text transform="translate(251.66,2547.84) scale(1,1.035)" font-size="22" text-anchor="middle">NA</text>
<text transform="translate(251.66,2588.35) scale(1,1.035)" font-size="22" text-anchor="middle">0.0</text>
<text transform="translate(373.18,2507.33) scale(1,1.035)" font-size="22" text-anchor="middle">0.0</text>
<text transform="translate(373.18,2547.84) scale(1,1.035)" font-size="22" text-anchor="middle">NA</text>
<text transform="translate(373.18,2588.35) scale(1,1.035)" font-size="22" text-anchor="middle">0.0</text>
<text transform="translate(494.7,2507.33) scale(1,1.035)" font-size="22" text-anchor="middle">0.0</text>
<text transform="translate(494.7,2547.84) scale(1,1.035)" font-size="22" text-anchor="middle">0.9</text>
<text transform="translate(494.7,2588.35) scale(1,1.035)" font-size="22" text-anchor="middle">0.0</text>
<text transform="translate(616.22,2507.33) scale(1,1.035)" font-size="22" text-anchor="middle">0.0</text>
<text transform="translate(616.22,2547.84) scale(1,1.035)" font-size="22" text-anchor="middle">0.9</text>
<text transform="translate(616.22,2588.35) scale(1,1.035)" font-size="22" text-anchor="middle">0.0</text>
<text transform="translate(737.74,2507.33) scale(1,1.035)" font-size="22" text-anchor="middle">0.0</text>
<text transform="translate(737.74,2547.84) scale(1,1.035)" font-size="22" text-anchor="middle">0.9</text>
<text transform="translate(737.74,2588.35) scale(1,1.035)" font-size="22" text-anchor="middle">0.0</text>
<text transform="translate(859.26,2507.33) scale(1,1.035)" font-size="22" text-anchor="middle">0.0</text>
<text transform="translate(859.26,2547.84) scale(1,1.035)" font-size="22" text-anchor="middle">0.9</text>
<text transform="translate(859.26,2588.35) scale(1,1.035)" font-size="22" text-anchor="middle">0.0</text>
<text transform="translate(980.78,2507.33) scale(1,1.035)" font-size="22" text-anchor="middle">0.0</text>
<text transform="translate(980.78,2547.84) scale(1,1.035)" font-size="22" text-anchor="middle">0.8</text>
<text transform="translate(980.78,2588.35) scale(1,1.035)" font-size="22" text-anchor="middle">0.0</text>
<text transform="translate(1102.3,2507.33) scale(1,1.035)" font-size="22" text-anchor="middle">0.0</text>
<text transform="translate(1102.3,2547.84) scale(1,1.035)" font-size="22" text-anchor="middle">0.8</text>
<text transform="translate(1102.3,2588.35) scale(1,1.035)" font-size="22" text-anchor="middle">0.0</text>
<text transform="translate(1223.82,2507.33) scale(1,1.035)" font-size="22" text-anchor="middle">0.7</text>
<text transform="translate(1223.82,2547.84) scale(1,1.035)" font-size="22" text-anchor="middle">1.0</text>
<text transform="translate(1223.82,2588.35) scale(1,1.035)" font-size="22" text-anchor="middle">0.7</text>
<text transform="translate(1345.34,2507.33) scale(1,1.035)" font-size="22" text-anchor="middle">0.8</text>
<text transform="translate(1345.34,2547.84) scale(1,1.035)" font-size="22" text-anchor="middle">1.0</text>
<text transform="translate(1345.34,2588.35) scale(1,1.035)" font-size="22" text-anchor="middle">0.8</text>
<text transform="translate(1466.86,2507.33) scale(1,1.035)" font-size="22" text-anchor="middle">0.8</text>
<text transform="translate(1466.86,2547.84) scale(1,1.035)" font-size="22" text-anchor="middle">1.0</text>
<text transform="translate(1466.86,2588.35) scale(1,1.035)" font-size="22" text-anchor="middle">0.8</text>
<text transform="translate(1588.38,2507.33) scale(1,1.035)" font-size="22" text-anchor="middle">1.0</text>
<text transform="translate(1588.38,2547.84) scale(1,1.035)" font-size="22" text-anchor="middle">1.0</text>
<text transform="translate(1588.38,2588.35) scale(1,1.035)" font-size="22" text-anchor="middle">0.9</text>
<text transform="translate(1709.9,2507.33) scale(1,1.035)" font-size="22" text-anchor="middle">1.0</text>
<text transform="translate(1709.9,2547.84) scale(1,1.035)" font-size="22" text-anchor="middle">1.0</text>
<text transform="translate(1709.9,2588.35) scale(1,1.035)" font-size="22" text-anchor="middle">0.9</text>
<text transform="translate(1831.42,2507.33) scale(1,1.035)" font-size="22" text-anchor="middle">1.0</text>
<text transform="translate(1831.42,2547.84) scale(1,1.035)" font-size="22" text-anchor="middle">1.0</text>
<text transform="translate(1831.42,2588.35) scale(1,1.035)" font-size="22" text-anchor="middle">1.0</text>
</g>
<text transform="translate(2029,862.66) scale(1,1.035)" font-size="68">351Saur083PP</text>
<text transform="translate(2029,984.18) scale(1,1.035)" font-size="68">NC_023550.1</text>
<text transform="translate(2029,1105.7) scale(1,1.035)" font-size="68">NC_019448.1</text>
<text transform="translate(2029,1227.22) scale(1,1.035)" font-size="68">NC_005880.2</text>
<text transform="translate(2029,1348.74) scale(1,1.035)" font-size="68">355Saur083PP</text>
<text transform="translate(2029,1470.26) scale(1,1.035)" font-size="68">357Saur119PP</text>
<text transform="translate(2029,1591.78) scale(1,1.035)" font-size="68">241Ecol014PP</text>
<text transform="translate(2029,1713.3) scale(1,1.035)" font-size="68">NC_041869.1</text>
<text transform="translate(2029,1834.82) scale(1,1.035)" font-size="68">348Ecol098PP</text>
<text transform="translate(2029,1956.34) scale(1,1.035)" font-size="68">308Ecol101PP</text>
<text transform="translate(2029,2077.86) scale(1,1.035)" font-size="68">NC_029091.1</text>
<text transform="translate(2029,2199.38) scale(1,1.035)" font-size="68">303Ecol101PP</text>
<text transform="translate(2029,2320.9) scale(1,1.035)" font-size="68">NC_054932.1</text>
<text transform="translate(2029,2442.42) scale(1,1.035)" font-size="68">310Ecol104PP</text>
<text transform="translate(2029,2563.94) scale(1,1.035)" font-size="68">NC_055741.1</text>
<text transform="translate(276.26,2617.3) rotate(-90) scale(1,1.035)" font-size="67.3" text-anchor="end">351Saur083PP</text>
<text transform="translate(397.78,2617.3) rotate(-90) scale(1,1.035)" font-size="67.3" text-anchor="end">NC_023550.1</text>
<text transform="translate(519.3,2617.3) rotate(-90) scale(1,1.035)" font-size="67.3" text-anchor="end">NC_019448.1</text>
<text transform="translate(640.82,2617.3) rotate(-90) scale(1,1.035)" font-size="67.3" text-anchor="end">NC_005880.2</text>
<text transform="translate(762.34,2617.3) rotate(-90) scale(1,1.035)" font-size="67.3" text-anchor="end">355Saur083PP</text>
<text transform="translate(883.86,2617.3) rotate(-90) scale(1,1.035)" font-size="67.3" text-anchor="end">357Saur119PP</text>
<text transform="translate(1005.38,2617.3) rotate(-90) scale(1,1.035)" font-size="67.3" text-anchor="end">241Ecol014PP</text>
<text transform="translate(1126.9,2617.3) rotate(-90) scale(1,1.035)" font-size="67.3" text-anchor="end">NC_041869.1</text>
<text transform="translate(1248.42,2617.3) rotate(-90) scale(1,1.035)" font-size="67.3" text-anchor="end">348Ecol098PP</text>
<text transform="translate(1369.94,2617.3) rotate(-90) scale(1,1.035)" font-size="67.3" text-anchor="end">308Ecol101PP</text>
<text transform="translate(1491.46,2617.3) rotate(-90) scale(1,1.035)" font-size="67.3" text-anchor="end">NC_029091.1</text>
<text transform="translate(1612.98,2617.3) rotate(-90) scale(1,1.035)" font-size="67.3" text-anchor="end">303Ecol101PP</text>
<text transform="translate(1734.5,2617.3) rotate(-90) scale(1,1.035)" font-size="67.3" text-anchor="end">NC_054932.1</text>
<text transform="translate(1856.02,2617.3) rotate(-90) scale(1,1.035)" font-size="67.3" text-anchor="end">310Ecol104PP</text>
<text transform="translate(1977.54,2617.3) rotate(-90) scale(1,1.035)" font-size="67.3" text-anchor="end">NC_055741.1</text>
</svg></body></html>
